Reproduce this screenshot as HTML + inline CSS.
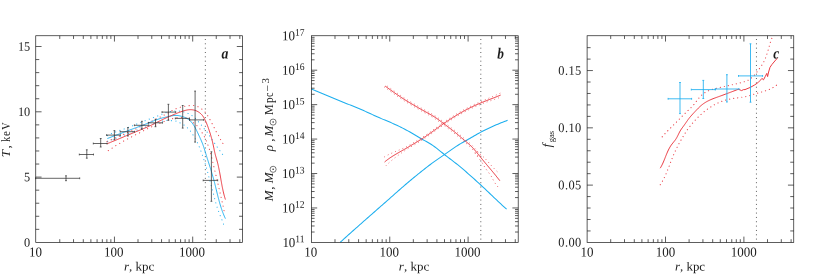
<!DOCTYPE html>
<html><head><meta charset="utf-8"><title>Figure</title>
<style>
html,body{margin:0;padding:0;background:#fff;}
body{width:830px;height:279px;overflow:hidden;font-family:"Liberation Serif",serif;}
svg{display:block;will-change:transform;font-family:"Liberation Serif",serif;}
</style></head><body>
<svg width="830" height="279" viewBox="0 0 830 279">
<rect width="830" height="279" fill="#ffffff"/>
<line x1="205.35" y1="39.0" x2="205.35" y2="241.4" stroke="#444" stroke-width="0.9" stroke-dasharray="0.95 3.39"/>
<path d="M107.4 135.6 L108.02 135.25 L108.65 134.91 L109.29 134.58 L109.93 134.27 L110.58 133.97 L111.23 133.67 L111.88 133.39 L112.54 133.12 L113.21 132.85 L113.87 132.59 L114.54 132.33 L115.21 132.08 L115.88 131.83 L116.55 131.59 L117.22 131.35 L117.9 131.12 L118.57 130.88 L119.25 130.65 L119.92 130.41 L120.6 130.18 L121.27 129.95 L121.95 129.72 L122.62 129.48 L123.3 129.25 L123.97 129.01 L124.64 128.77 L125.32 128.53 L125.99 128.28 L126.66 128.04 L127.33 127.79 L128 127.54 L128.66 127.28 L129.33 127.03 L130 126.77 L130.67 126.52 L131.33 126.26 L132 126 L132.66 125.73 L133.33 125.47 L133.99 125.21 L134.65 124.94 L135.32 124.67 L135.98 124.41 L136.64 124.14 L137.3 123.87 L137.96 123.6 L138.63 123.33 L139.29 123.06 L139.95 122.79 L140.61 122.52 L141.27 122.26 L141.94 121.99 L142.6 121.72 L143.26 121.46 L143.93 121.19 L144.59 120.93 L145.25 120.66 L145.92 120.4 L146.58 120.14 L147.25 119.89 L147.92 119.63 L148.58 119.38 L149.25 119.13 L149.92 118.88 L150.59 118.63 L151.26 118.38 L151.93 118.13 L152.6 117.88 L153.27 117.63 L153.94 117.38 L154.61 117.13 L155.27 116.88 L155.94 116.63 L156.61 116.37 L157.27 116.11 L157.94 115.85 L158.6 115.58 L159.26 115.31 L159.92 115.03 L160.58 114.75 L161.24 114.47 L161.9 114.19 L162.56 113.91 L163.22 113.63 L163.88 113.37 L164.55 113.11 L165.22 112.86 L165.89 112.64 L166.57 112.42 L167.26 112.23 L167.95 112.05 L168.64 111.89 L169.34 111.74 L170.05 111.61 L170.75 111.49 L171.46 111.39 L172.18 111.29 L172.89 111.21 L173.61 111.13 L174.32 111.08 L175.04 111.03 L175.76 111 L176.48 110.99 L177.19 110.99 L177.91 111.01 L178.62 111.05 L179.33 111.11 L180.04 111.19 L180.75 111.29 L181.45 111.42 L182.15 111.56 L182.84 111.73 L183.54 111.91 L184.23 112.1 L184.91 112.31 L185.6 112.53 L186.28 112.75 L186.95 112.99 L187.62 113.25 L188.28 113.52 L188.93 113.82 L189.56 114.14 L190.19 114.48 L190.8 114.85 L191.4 115.24 L192 115.64 L192.58 116.06 L193.15 116.49 L193.71 116.93 L194.26 117.38 L194.8 117.85 L195.33 118.34 L195.84 118.84 L196.33 119.35 L196.82 119.87 L197.3 120.41 L197.77 120.94 L198.24 121.48 L198.71 122.02 L199.18 122.56 L199.65 123.1 L200.12 123.64 L200.59 124.18 L201.05 124.72 L201.5 125.27 L201.94 125.83 L202.38 126.4 L202.82 126.96 L203.25 127.53 L203.7 128.09 L204.15 128.64 L204.62 129.18 L205.09 129.72 L205.57 130.25 L206.04 130.79 L206.5 131.33 L206.95 131.89 L207.37 132.46 L207.78 133.05 L208.17 133.65 L208.55 134.25 L208.93 134.86 L209.31 135.46 L209.7 136.07 L210.08 136.67 L210.47 137.27 L210.87 137.86 L211.27 138.46 L211.67 139.05 L212.07 139.64 L212.48 140.23 L212.88 140.81 L213.29 141.4 L213.7 141.98 L214.11 142.57 L214.52 143.15 L214.93 143.74 L215.34 144.32 L215.75 144.91 L216.16 145.49 L216.57 146.08 L216.98 146.66 L217.4 147.24 L217.81 147.83 L218.22 148.41 L218.64 148.99 L219.05 149.57 L219.47 150.15 L219.88 150.73 L220.3 151.31 L220.72 151.89 L221.14 152.47 L221.56 153.05 L221.98 153.63 L222.4 154.2 L222.82 154.78 L223.25 155.35 L223.67 155.93 L224.1 156.5" fill="none" stroke="#1caeee" stroke-width="1.15" stroke-linecap="round" stroke-dasharray="0.1 4.4" stroke-opacity="0.88"/>
<path d="M107.6 141.4 L108.49 141.06 L109.38 140.72 L110.27 140.38 L111.16 140.05 L112.05 139.71 L112.94 139.37 L113.83 139.04 L114.72 138.7 L115.61 138.37 L116.5 138.03 L117.4 137.7 L118.29 137.37 L119.18 137.03 L120.07 136.7 L120.96 136.36 L121.85 136.02 L122.74 135.69 L123.63 135.35 L124.52 135.01 L125.41 134.67 L126.3 134.34 L127.19 134 L128.08 133.66 L128.97 133.32 L129.86 132.98 L130.75 132.63 L131.63 132.29 L132.52 131.95 L133.41 131.61 L134.3 131.27 L135.19 130.93 L136.08 130.59 L136.97 130.24 L137.86 129.9 L138.74 129.56 L139.63 129.22 L140.52 128.88 L141.41 128.54 L142.3 128.2 L143.19 127.85 L144.08 127.51 L144.96 127.17 L145.85 126.83 L146.74 126.49 L147.63 126.14 L148.52 125.8 L149.4 125.46 L150.29 125.12 L151.18 124.78 L152.07 124.44 L152.96 124.11 L153.86 123.79 L154.76 123.47 L155.66 123.16 L156.56 122.85 L157.46 122.56 L158.37 122.28 L159.29 122 L160.21 121.74 L161.13 121.5 L162.06 121.27 L162.99 121.06 L163.93 120.88 L164.87 120.73 L165.81 120.62 L166.75 120.54 L167.7 120.5 L168.65 120.49 L169.6 120.51 L170.55 120.55 L171.51 120.6 L172.47 120.66 L173.43 120.73 L174.39 120.81 L175.34 120.93 L176.26 121.12 L177.17 121.39 L178.03 121.76 L178.88 122.19 L179.71 122.67 L180.54 123.15 L181.38 123.62 L182.22 124.07 L183.06 124.53 L183.88 125.01 L184.68 125.52 L185.44 126.08 L186.18 126.69 L186.89 127.32 L187.58 127.98 L188.26 128.66 L188.92 129.35 L189.56 130.05 L190.18 130.77 L190.77 131.52 L191.33 132.29 L191.86 133.07 L192.38 133.87 L192.88 134.68 L193.38 135.5 L193.88 136.32 L194.36 137.13 L194.85 137.96 L195.32 138.78 L195.79 139.61 L196.24 140.45 L196.69 141.29 L197.12 142.13 L197.54 142.99 L197.94 143.85 L198.34 144.72 L198.72 145.59 L199.09 146.46 L199.45 147.34 L199.81 148.23 L200.16 149.12 L200.5 150 L200.84 150.9 L201.18 151.79 L201.51 152.68 L201.83 153.57 L202.15 154.47 L202.47 155.37 L202.78 156.27 L203.09 157.17 L203.39 158.07 L203.69 158.97 L203.98 159.88 L204.27 160.79 L204.56 161.69 L204.84 162.6 L205.12 163.51 L205.39 164.43 L205.66 165.34 L205.93 166.25 L206.2 167.17 L206.46 168.08 L206.72 169 L206.98 169.91 L207.23 170.83 L207.49 171.75 L207.74 172.67 L207.99 173.59 L208.24 174.5 L208.49 175.42 L208.74 176.34 L208.98 177.26 L209.23 178.18 L209.48 179.1 L209.72 180.02 L209.97 180.94 L210.21 181.86 L210.46 182.78 L210.71 183.7 L210.95 184.62 L211.2 185.54 L211.45 186.45 L211.7 187.37 L211.95 188.29 L212.19 189.21 L212.44 190.13 L212.69 191.05 L212.93 191.97 L213.18 192.89 L213.42 193.81 L213.67 194.73 L213.91 195.65 L214.15 196.57 L214.39 197.5 L214.63 198.42 L214.87 199.34 L215.11 200.26 L215.35 201.18 L215.6 202.1 L215.86 203.02 L216.11 203.94 L216.38 204.85 L216.65 205.76 L216.93 206.67 L217.22 207.58 L217.52 208.48 L217.84 209.38 L218.16 210.27 L218.49 211.16 L218.83 212.05 L219.17 212.94 L219.52 213.83 L219.88 214.71 L220.23 215.59 L220.59 216.48 L220.94 217.36 L221.3 218.25 L221.65 219.13 L221.99 220.02 L222.33 220.91 L222.66 221.8 L222.99 222.7 L223.3 223.6 L223.6 224.5" fill="none" stroke="#1caeee" stroke-width="1.15" stroke-linecap="round" stroke-dasharray="0.1 4.4" stroke-opacity="0.88"/>
<path d="M107 141.5 L107.67 141.21 L108.33 140.92 L109 140.63 L109.66 140.34 L110.33 140.05 L110.99 139.75 L111.66 139.46 L112.33 139.17 L112.99 138.88 L113.65 138.58 L114.32 138.29 L114.98 138 L115.65 137.7 L116.31 137.41 L116.98 137.12 L117.65 136.83 L118.31 136.53 L118.98 136.24 L119.64 135.95 L120.31 135.66 L120.97 135.37 L121.64 135.08 L122.31 134.8 L122.98 134.51 L123.64 134.22 L124.31 133.94 L124.98 133.65 L125.65 133.37 L126.32 133.09 L126.99 132.8 L127.66 132.52 L128.33 132.24 L129 131.96 L129.67 131.67 L130.33 131.39 L131 131.1 L131.67 130.81 L132.34 130.52 L133 130.23 L133.66 129.93 L134.33 129.63 L134.99 129.33 L135.65 129.03 L136.3 128.72 L136.96 128.41 L137.62 128.1 L138.27 127.79 L138.93 127.47 L139.58 127.15 L140.23 126.83 L140.89 126.51 L141.54 126.19 L142.19 125.87 L142.84 125.55 L143.49 125.22 L144.14 124.9 L144.79 124.57 L145.44 124.25 L146.09 123.93 L146.74 123.6 L147.39 123.28 L148.05 122.96 L148.7 122.64 L149.35 122.32 L150 122 L150.66 121.68 L151.31 121.37 L151.97 121.05 L152.63 120.74 L153.28 120.43 L153.94 120.11 L154.6 119.8 L155.25 119.49 L155.91 119.17 L156.56 118.86 L157.22 118.55 L157.87 118.23 L158.53 117.91 L159.18 117.59 L159.83 117.27 L160.48 116.95 L161.13 116.62 L161.78 116.29 L162.42 115.96 L163.07 115.63 L163.71 115.29 L164.35 114.95 L164.99 114.6 L165.62 114.25 L166.26 113.9 L166.89 113.55 L167.53 113.19 L168.16 112.83 L168.79 112.47 L169.42 112.1 L170.05 111.74 L170.68 111.37 L171.31 111.01 L171.94 110.64 L172.57 110.28 L173.21 109.94 L173.86 109.61 L174.51 109.3 L175.18 109.02 L175.86 108.75 L176.54 108.5 L177.22 108.26 L177.91 108.03 L178.61 107.8 L179.3 107.57 L179.99 107.34 L180.68 107.11 L181.38 106.91 L182.08 106.71 L182.78 106.55 L183.49 106.4 L184.21 106.29 L184.93 106.19 L185.65 106.1 L186.37 106.01 L187.1 105.93 L187.82 105.83 L188.54 105.72 L189.26 105.62 L189.98 105.53 L190.7 105.46 L191.43 105.41 L192.15 105.4 L192.88 105.42 L193.61 105.48 L194.33 105.58 L195.05 105.72 L195.76 105.89 L196.46 106.1 L197.14 106.34 L197.82 106.62 L198.48 106.93 L199.12 107.27 L199.75 107.63 L200.37 108.02 L200.97 108.43 L201.56 108.86 L202.13 109.31 L202.69 109.77 L203.24 110.25 L203.77 110.75 L204.3 111.25 L204.81 111.77 L205.3 112.31 L205.77 112.86 L206.22 113.43 L206.65 114.02 L207.05 114.62 L207.44 115.23 L207.82 115.86 L208.19 116.48 L208.55 117.12 L208.91 117.75 L209.28 118.38 L209.64 119.01 L210 119.64 L210.35 120.27 L210.7 120.91 L211.05 121.55 L211.39 122.19 L211.73 122.83 L212.07 123.47 L212.41 124.12 L212.74 124.76 L213.08 125.41 L213.41 126.05 L213.74 126.7 L214.07 127.35 L214.4 127.99 L214.72 128.65 L215.04 129.3 L215.36 129.95 L215.69 130.6 L216.02 131.25 L216.37 131.89 L216.73 132.52 L217.1 133.14 L217.48 133.76 L217.86 134.38 L218.23 135 L218.6 135.63 L218.94 136.27 L219.27 136.92 L219.59 137.57 L219.9 138.23 L220.21 138.89 L220.52 139.54 L220.85 140.19 L221.19 140.83 L221.54 141.46 L221.93 142.08 L222.35 142.67 L222.8 143.25 L223.3 143.8" fill="none" stroke="#e92f38" stroke-width="1.15" stroke-linecap="round" stroke-dasharray="0.1 4.4" stroke-opacity="0.88"/>
<path d="M108.3 150.6 L109.15 150.14 L109.97 149.65 L110.77 149.12 L111.56 148.57 L112.33 148.01 L113.11 147.45 L113.89 146.89 L114.68 146.34 L115.48 145.81 L116.3 145.32 L117.13 144.85 L117.97 144.38 L118.81 143.93 L119.65 143.46 L120.48 142.98 L121.3 142.49 L122.12 141.99 L122.95 141.49 L123.77 141 L124.6 140.52 L125.43 140.04 L126.27 139.58 L127.12 139.14 L127.97 138.7 L128.83 138.28 L129.69 137.86 L130.55 137.42 L131.4 136.98 L132.25 136.53 L133.1 136.08 L133.94 135.64 L134.8 135.2 L135.66 134.77 L136.52 134.36 L137.38 133.94 L138.25 133.53 L139.11 133.1 L139.97 132.68 L140.82 132.24 L141.67 131.79 L142.51 131.33 L143.34 130.86 L144.18 130.39 L145.02 129.92 L145.86 129.47 L146.72 129.04 L147.59 128.64 L148.47 128.25 L149.35 127.87 L150.23 127.48 L151.1 127.1 L151.98 126.71 L152.86 126.32 L153.74 125.94 L154.61 125.55 L155.49 125.16 L156.37 124.78 L157.24 124.39 L158.12 124.01 L159 123.63 L159.88 123.25 L160.77 122.88 L161.65 122.51 L162.54 122.14 L163.43 121.78 L164.32 121.43 L165.21 121.08 L166.11 120.74 L167.01 120.41 L167.92 120.09 L168.82 119.79 L169.74 119.49 L170.65 119.2 L171.57 118.93 L172.49 118.67 L173.42 118.42 L174.35 118.19 L175.29 117.98 L176.23 117.79 L177.17 117.62 L178.12 117.48 L179.08 117.38 L180.04 117.32 L181.01 117.3 L181.98 117.33 L182.95 117.4 L183.91 117.53 L184.87 117.71 L185.8 117.95 L186.72 118.25 L187.6 118.61 L188.45 119.04 L189.27 119.52 L190.06 120.06 L190.83 120.63 L191.58 121.23 L192.33 121.85 L193.07 122.48 L193.81 123.1 L194.56 123.71 L195.32 124.3 L196.07 124.89 L196.81 125.5 L197.53 126.13 L198.21 126.81 L198.84 127.52 L199.45 128.27 L200.01 129.06 L200.53 129.86 L201.02 130.69 L201.48 131.53 L201.94 132.37 L202.4 133.21 L202.87 134.05 L203.35 134.88 L203.83 135.71 L204.3 136.54 L204.75 137.39 L205.16 138.25 L205.55 139.13 L205.92 140.01 L206.28 140.9 L206.64 141.8 L206.99 142.69 L207.35 143.58 L207.69 144.48 L208.04 145.37 L208.37 146.27 L208.7 147.17 L209.02 148.07 L209.33 148.98 L209.63 149.89 L209.91 150.8 L210.19 151.72 L210.45 152.64 L210.71 153.57 L210.95 154.49 L211.19 155.42 L211.43 156.35 L211.66 157.28 L211.88 158.21 L212.1 159.15 L212.32 160.08 L212.54 161.02 L212.76 161.95 L212.97 162.89 L213.19 163.82 L213.41 164.76 L213.63 165.69 L213.86 166.62 L214.08 167.56 L214.3 168.49 L214.53 169.42 L214.75 170.35 L214.98 171.29 L215.2 172.22 L215.43 173.15 L215.66 174.08 L215.88 175.01 L216.11 175.94 L216.33 176.88 L216.56 177.81 L216.78 178.74 L217 179.67 L217.22 180.6 L217.44 181.54 L217.66 182.47 L217.88 183.4 L218.1 184.34 L218.31 185.27 L218.53 186.21 L218.74 187.14 L218.96 188.07 L219.17 189.01 L219.38 189.94 L219.6 190.88 L219.81 191.81 L220.02 192.75 L220.24 193.68 L220.45 194.62 L220.66 195.55 L220.88 196.49 L221.1 197.42 L221.32 198.35 L221.53 199.29 L221.75 200.22 L221.97 201.16 L222.19 202.09 L222.4 203.02 L222.62 203.96 L222.83 204.89 L223.04 205.83 L223.25 206.76 L223.45 207.7 L223.65 208.64 L223.85 209.58 L224.04 210.52 L224.22 211.46 L224.4 212.4" fill="none" stroke="#e92f38" stroke-width="1.15" stroke-linecap="round" stroke-dasharray="0.1 4.4" stroke-opacity="0.88"/>
<path d="M107.4 138.5 L108.3 138.16 L109.21 137.81 L110.11 137.47 L111.01 137.12 L111.92 136.78 L112.82 136.43 L113.72 136.09 L114.63 135.74 L115.53 135.4 L116.43 135.05 L117.34 134.71 L118.24 134.37 L119.15 134.02 L120.05 133.68 L120.96 133.34 L121.86 133 L122.77 132.65 L123.67 132.31 L124.57 131.97 L125.48 131.63 L126.39 131.29 L127.29 130.95 L128.2 130.61 L129.1 130.27 L130.01 129.93 L130.91 129.59 L131.82 129.25 L132.73 128.92 L133.63 128.58 L134.54 128.24 L135.44 127.91 L136.35 127.58 L137.26 127.24 L138.16 126.91 L139.07 126.57 L139.98 126.24 L140.88 125.9 L141.79 125.56 L142.69 125.22 L143.6 124.88 L144.5 124.53 L145.4 124.18 L146.31 123.83 L147.21 123.48 L148.11 123.12 L149 122.76 L149.9 122.39 L150.8 122.02 L151.7 121.65 L152.59 121.29 L153.49 120.93 L154.39 120.57 L155.3 120.22 L156.2 119.88 L157.11 119.55 L158.02 119.23 L158.94 118.93 L159.86 118.64 L160.78 118.37 L161.71 118.12 L162.64 117.88 L163.58 117.65 L164.52 117.43 L165.46 117.22 L166.41 117.01 L167.36 116.8 L168.31 116.59 L169.26 116.37 L170.21 116.16 L171.17 115.96 L172.12 115.78 L173.08 115.62 L174.04 115.5 L174.99 115.42 L175.95 115.4 L176.91 115.44 L177.87 115.53 L178.83 115.67 L179.78 115.86 L180.73 116.09 L181.67 116.35 L182.61 116.64 L183.54 116.95 L184.46 117.29 L185.36 117.67 L186.24 118.08 L187.09 118.53 L187.92 119.03 L188.7 119.58 L189.45 120.17 L190.17 120.82 L190.85 121.5 L191.49 122.23 L192.11 122.98 L192.7 123.77 L193.26 124.57 L193.8 125.4 L194.31 126.24 L194.81 127.09 L195.28 127.94 L195.74 128.8 L196.19 129.66 L196.62 130.52 L197.04 131.39 L197.46 132.26 L197.86 133.13 L198.27 134.01 L198.67 134.88 L199.07 135.76 L199.48 136.64 L199.88 137.52 L200.28 138.4 L200.68 139.28 L201.07 140.16 L201.46 141.05 L201.83 141.94 L202.2 142.84 L202.55 143.74 L202.89 144.64 L203.22 145.55 L203.54 146.46 L203.85 147.38 L204.15 148.3 L204.44 149.22 L204.73 150.15 L205.01 151.07 L205.29 152 L205.57 152.92 L205.85 153.85 L206.13 154.78 L206.42 155.7 L206.7 156.63 L206.99 157.55 L207.28 158.47 L207.57 159.39 L207.87 160.31 L208.16 161.24 L208.46 162.16 L208.75 163.08 L209.05 164 L209.34 164.92 L209.63 165.84 L209.92 166.76 L210.22 167.68 L210.5 168.61 L210.79 169.53 L211.07 170.45 L211.36 171.38 L211.63 172.31 L211.91 173.23 L212.19 174.16 L212.46 175.09 L212.72 176.02 L212.99 176.95 L213.25 177.88 L213.51 178.81 L213.76 179.74 L214.01 180.68 L214.26 181.61 L214.51 182.55 L214.75 183.49 L214.98 184.43 L215.22 185.37 L215.45 186.31 L215.68 187.25 L215.91 188.19 L216.14 189.13 L216.37 190.07 L216.6 191.01 L216.83 191.96 L217.06 192.9 L217.29 193.84 L217.52 194.78 L217.76 195.72 L217.99 196.65 L218.23 197.59 L218.48 198.53 L218.72 199.46 L218.97 200.4 L219.23 201.33 L219.49 202.26 L219.75 203.19 L220.02 204.12 L220.29 205.04 L220.58 205.97 L220.86 206.89 L221.16 207.81 L221.46 208.72 L221.77 209.64 L222.09 210.55 L222.42 211.46 L222.76 212.36 L223.1 213.26 L223.46 214.16 L223.83 215.06 L224.2 215.95 L224.59 216.84 L224.99 217.72 L225.4 218.6" fill="none" stroke="#1caeee" stroke-width="0.95" stroke-linejoin="round"/>
<path d="M106.9 143.8 L107.79 143.44 L108.69 143.08 L109.58 142.72 L110.47 142.35 L111.36 141.99 L112.25 141.62 L113.14 141.25 L114.03 140.89 L114.92 140.52 L115.81 140.15 L116.69 139.78 L117.58 139.41 L118.47 139.04 L119.36 138.67 L120.25 138.3 L121.13 137.93 L122.02 137.55 L122.91 137.18 L123.8 136.81 L124.68 136.44 L125.57 136.06 L126.46 135.69 L127.35 135.32 L128.23 134.95 L129.12 134.58 L130.01 134.21 L130.9 133.84 L131.79 133.47 L132.68 133.1 L133.56 132.73 L134.45 132.36 L135.34 131.99 L136.23 131.63 L137.13 131.26 L138.02 130.9 L138.91 130.53 L139.8 130.17 L140.69 129.8 L141.58 129.43 L142.47 129.06 L143.36 128.69 L144.25 128.32 L145.13 127.94 L146.02 127.56 L146.9 127.18 L147.78 126.79 L148.66 126.4 L149.53 126 L150.41 125.6 L151.28 125.19 L152.15 124.77 L153.01 124.35 L153.87 123.92 L154.73 123.49 L155.59 123.05 L156.44 122.61 L157.3 122.17 L158.16 121.73 L159.01 121.3 L159.87 120.86 L160.74 120.43 L161.6 120.01 L162.47 119.59 L163.34 119.18 L164.21 118.77 L165.09 118.36 L165.96 117.96 L166.84 117.56 L167.72 117.17 L168.6 116.78 L169.48 116.39 L170.36 116.01 L171.24 115.63 L172.12 115.25 L173 114.87 L173.89 114.5 L174.77 114.13 L175.66 113.77 L176.55 113.41 L177.44 113.06 L178.34 112.71 L179.25 112.37 L180.16 112.04 L181.07 111.72 L181.99 111.4 L182.92 111.1 L183.85 110.81 L184.79 110.54 L185.74 110.3 L186.68 110.09 L187.63 109.91 L188.59 109.78 L189.55 109.7 L190.5 109.67 L191.46 109.7 L192.42 109.8 L193.37 109.95 L194.32 110.17 L195.25 110.45 L196.16 110.78 L197.05 111.18 L197.91 111.63 L198.74 112.13 L199.54 112.69 L200.3 113.3 L201.02 113.95 L201.69 114.64 L202.32 115.37 L202.9 116.14 L203.44 116.94 L203.94 117.77 L204.4 118.61 L204.84 119.47 L205.26 120.34 L205.67 121.22 L206.06 122.1 L206.44 122.98 L206.8 123.87 L207.16 124.77 L207.5 125.67 L207.84 126.57 L208.17 127.47 L208.49 128.38 L208.8 129.29 L209.11 130.2 L209.42 131.11 L209.72 132.03 L210.01 132.95 L210.3 133.87 L210.58 134.79 L210.85 135.71 L211.12 136.64 L211.38 137.56 L211.64 138.49 L211.88 139.42 L212.12 140.35 L212.36 141.29 L212.58 142.23 L212.8 143.16 L213.01 144.1 L213.22 145.04 L213.41 145.99 L213.61 146.93 L213.8 147.87 L214 148.82 L214.19 149.76 L214.39 150.7 L214.6 151.64 L214.81 152.58 L215.03 153.52 L215.26 154.45 L215.5 155.38 L215.76 156.31 L216.02 157.23 L216.29 158.16 L216.55 159.08 L216.82 160.01 L217.08 160.93 L217.33 161.86 L217.58 162.79 L217.81 163.73 L218.04 164.66 L218.25 165.6 L218.46 166.54 L218.67 167.48 L218.87 168.42 L219.06 169.36 L219.25 170.3 L219.43 171.25 L219.61 172.19 L219.79 173.14 L219.96 174.09 L220.13 175.04 L220.3 175.99 L220.46 176.93 L220.63 177.88 L220.8 178.83 L220.96 179.78 L221.13 180.73 L221.3 181.68 L221.47 182.63 L221.64 183.58 L221.81 184.53 L221.99 185.47 L222.17 186.42 L222.36 187.36 L222.55 188.31 L222.74 189.25 L222.94 190.19 L223.15 191.13 L223.37 192.07 L223.59 193 L223.82 193.94 L224.06 194.87 L224.31 195.8 L224.57 196.73 L224.83 197.66 L225.11 198.58 L225.4 199.5" fill="none" stroke="#e92f38" stroke-width="0.95" stroke-linejoin="round"/>
<line x1="35.6" y1="178.3" x2="79.7" y2="178.3" stroke="#2b2b2b" stroke-width="0.72" />
<line x1="66" y1="175.8" x2="66" y2="180.7" stroke="#2b2b2b" stroke-width="0.72" />
<line x1="65.1" y1="175.8" x2="66.9" y2="175.8" stroke="#2b2b2b" stroke-width="0.72" />
<line x1="65.1" y1="180.7" x2="66.9" y2="180.7" stroke="#2b2b2b" stroke-width="0.72" />
<line x1="35.6" y1="177.4" x2="35.6" y2="179.2" stroke="#2b2b2b" stroke-width="0.72" />
<line x1="79.7" y1="177.4" x2="79.7" y2="179.2" stroke="#2b2b2b" stroke-width="0.72" />
<line x1="79.3" y1="154.5" x2="93.5" y2="154.5" stroke="#2b2b2b" stroke-width="0.72" />
<line x1="86.8" y1="149.8" x2="86.8" y2="158.2" stroke="#2b2b2b" stroke-width="0.72" />
<line x1="85.9" y1="149.8" x2="87.7" y2="149.8" stroke="#2b2b2b" stroke-width="0.72" />
<line x1="85.9" y1="158.2" x2="87.7" y2="158.2" stroke="#2b2b2b" stroke-width="0.72" />
<line x1="79.3" y1="153.6" x2="79.3" y2="155.4" stroke="#2b2b2b" stroke-width="0.72" />
<line x1="93.5" y1="153.6" x2="93.5" y2="155.4" stroke="#2b2b2b" stroke-width="0.72" />
<line x1="93.3" y1="143.5" x2="107.1" y2="143.5" stroke="#2b2b2b" stroke-width="0.72" />
<line x1="100.7" y1="138.5" x2="100.7" y2="147" stroke="#2b2b2b" stroke-width="0.72" />
<line x1="99.8" y1="138.5" x2="101.6" y2="138.5" stroke="#2b2b2b" stroke-width="0.72" />
<line x1="99.8" y1="147" x2="101.6" y2="147" stroke="#2b2b2b" stroke-width="0.72" />
<line x1="93.3" y1="142.6" x2="93.3" y2="144.4" stroke="#2b2b2b" stroke-width="0.72" />
<line x1="107.1" y1="142.6" x2="107.1" y2="144.4" stroke="#2b2b2b" stroke-width="0.72" />
<line x1="106.6" y1="135.1" x2="120.4" y2="135.1" stroke="#2b2b2b" stroke-width="0.72" />
<line x1="114.4" y1="130.6" x2="114.4" y2="139.6" stroke="#2b2b2b" stroke-width="0.72" />
<line x1="113.5" y1="130.6" x2="115.3" y2="130.6" stroke="#2b2b2b" stroke-width="0.72" />
<line x1="113.5" y1="139.6" x2="115.3" y2="139.6" stroke="#2b2b2b" stroke-width="0.72" />
<line x1="106.6" y1="134.2" x2="106.6" y2="136" stroke="#2b2b2b" stroke-width="0.72" />
<line x1="120.4" y1="134.2" x2="120.4" y2="136" stroke="#2b2b2b" stroke-width="0.72" />
<line x1="120.2" y1="131.7" x2="134.5" y2="131.7" stroke="#2b2b2b" stroke-width="0.72" />
<line x1="127.9" y1="127.6" x2="127.9" y2="136" stroke="#2b2b2b" stroke-width="0.72" />
<line x1="127" y1="127.6" x2="128.8" y2="127.6" stroke="#2b2b2b" stroke-width="0.72" />
<line x1="127" y1="136" x2="128.8" y2="136" stroke="#2b2b2b" stroke-width="0.72" />
<line x1="120.2" y1="130.8" x2="120.2" y2="132.6" stroke="#2b2b2b" stroke-width="0.72" />
<line x1="134.5" y1="130.8" x2="134.5" y2="132.6" stroke="#2b2b2b" stroke-width="0.72" />
<line x1="134.4" y1="125.3" x2="148.4" y2="125.3" stroke="#2b2b2b" stroke-width="0.72" />
<line x1="141.9" y1="121.3" x2="141.9" y2="129.1" stroke="#2b2b2b" stroke-width="0.72" />
<line x1="141" y1="121.3" x2="142.8" y2="121.3" stroke="#2b2b2b" stroke-width="0.72" />
<line x1="141" y1="129.1" x2="142.8" y2="129.1" stroke="#2b2b2b" stroke-width="0.72" />
<line x1="134.4" y1="124.4" x2="134.4" y2="126.2" stroke="#2b2b2b" stroke-width="0.72" />
<line x1="148.4" y1="124.4" x2="148.4" y2="126.2" stroke="#2b2b2b" stroke-width="0.72" />
<line x1="148.5" y1="122.8" x2="162.4" y2="122.8" stroke="#2b2b2b" stroke-width="0.72" />
<line x1="155.5" y1="119.3" x2="155.5" y2="126.7" stroke="#2b2b2b" stroke-width="0.72" />
<line x1="154.6" y1="119.3" x2="156.4" y2="119.3" stroke="#2b2b2b" stroke-width="0.72" />
<line x1="154.6" y1="126.7" x2="156.4" y2="126.7" stroke="#2b2b2b" stroke-width="0.72" />
<line x1="148.5" y1="121.9" x2="148.5" y2="123.7" stroke="#2b2b2b" stroke-width="0.72" />
<line x1="162.4" y1="121.9" x2="162.4" y2="123.7" stroke="#2b2b2b" stroke-width="0.72" />
<line x1="162" y1="112.1" x2="175.7" y2="112.1" stroke="#2b2b2b" stroke-width="0.72" />
<line x1="168.4" y1="104.3" x2="168.4" y2="120.2" stroke="#2b2b2b" stroke-width="0.72" />
<line x1="167.5" y1="104.3" x2="169.3" y2="104.3" stroke="#2b2b2b" stroke-width="0.72" />
<line x1="167.5" y1="120.2" x2="169.3" y2="120.2" stroke="#2b2b2b" stroke-width="0.72" />
<line x1="162" y1="111.2" x2="162" y2="113" stroke="#2b2b2b" stroke-width="0.72" />
<line x1="175.7" y1="111.2" x2="175.7" y2="113" stroke="#2b2b2b" stroke-width="0.72" />
<line x1="175.3" y1="118.4" x2="189.5" y2="118.4" stroke="#2b2b2b" stroke-width="0.72" />
<line x1="182.7" y1="105.5" x2="182.7" y2="128.1" stroke="#2b2b2b" stroke-width="0.72" />
<line x1="181.8" y1="105.5" x2="183.6" y2="105.5" stroke="#2b2b2b" stroke-width="0.72" />
<line x1="181.8" y1="128.1" x2="183.6" y2="128.1" stroke="#2b2b2b" stroke-width="0.72" />
<line x1="175.3" y1="117.5" x2="175.3" y2="119.3" stroke="#2b2b2b" stroke-width="0.72" />
<line x1="189.5" y1="117.5" x2="189.5" y2="119.3" stroke="#2b2b2b" stroke-width="0.72" />
<line x1="189.5" y1="119.9" x2="203.7" y2="119.9" stroke="#2b2b2b" stroke-width="0.72" />
<line x1="195.1" y1="91.1" x2="195.1" y2="142.1" stroke="#2b2b2b" stroke-width="0.72" />
<line x1="194.2" y1="91.1" x2="196" y2="91.1" stroke="#2b2b2b" stroke-width="0.72" />
<line x1="194.2" y1="142.1" x2="196" y2="142.1" stroke="#2b2b2b" stroke-width="0.72" />
<line x1="189.5" y1="119" x2="189.5" y2="120.8" stroke="#2b2b2b" stroke-width="0.72" />
<line x1="203.7" y1="119" x2="203.7" y2="120.8" stroke="#2b2b2b" stroke-width="0.72" />
<line x1="203.2" y1="180.4" x2="217.7" y2="180.4" stroke="#2b2b2b" stroke-width="0.72" />
<line x1="211.4" y1="151.8" x2="211.4" y2="201.3" stroke="#2b2b2b" stroke-width="0.72" />
<line x1="210.5" y1="151.8" x2="212.3" y2="151.8" stroke="#2b2b2b" stroke-width="0.72" />
<line x1="210.5" y1="201.3" x2="212.3" y2="201.3" stroke="#2b2b2b" stroke-width="0.72" />
<line x1="203.2" y1="179.5" x2="203.2" y2="181.3" stroke="#2b2b2b" stroke-width="0.72" />
<line x1="217.7" y1="179.5" x2="217.7" y2="181.3" stroke="#2b2b2b" stroke-width="0.72" />
<rect x="35.75" y="35.75" width="206.85" height="206.65" fill="none" stroke="#1a1a1a" stroke-width="0.7"/>
<text transform="translate(35.6 256.5) scale(1 1.05) rotate(0.05)" text-anchor="middle" font-size="13.0" fill="#1c1c1c" >10</text>
<line x1="59.76" y1="242.4" x2="59.76" y2="239.2" stroke="#1a1a1a" stroke-width="0.7" />
<line x1="59.76" y1="35.75" x2="59.76" y2="38.95" stroke="#1a1a1a" stroke-width="0.7" />
<line x1="73.53" y1="242.4" x2="73.53" y2="239.2" stroke="#1a1a1a" stroke-width="0.7" />
<line x1="73.53" y1="35.75" x2="73.53" y2="38.95" stroke="#1a1a1a" stroke-width="0.7" />
<line x1="83.31" y1="242.4" x2="83.31" y2="239.2" stroke="#1a1a1a" stroke-width="0.7" />
<line x1="83.31" y1="35.75" x2="83.31" y2="38.95" stroke="#1a1a1a" stroke-width="0.7" />
<line x1="90.89" y1="242.4" x2="90.89" y2="239.2" stroke="#1a1a1a" stroke-width="0.7" />
<line x1="90.89" y1="35.75" x2="90.89" y2="38.95" stroke="#1a1a1a" stroke-width="0.7" />
<line x1="97.09" y1="242.4" x2="97.09" y2="239.2" stroke="#1a1a1a" stroke-width="0.7" />
<line x1="97.09" y1="35.75" x2="97.09" y2="38.95" stroke="#1a1a1a" stroke-width="0.7" />
<line x1="102.33" y1="242.4" x2="102.33" y2="239.2" stroke="#1a1a1a" stroke-width="0.7" />
<line x1="102.33" y1="35.75" x2="102.33" y2="38.95" stroke="#1a1a1a" stroke-width="0.7" />
<line x1="106.87" y1="242.4" x2="106.87" y2="239.2" stroke="#1a1a1a" stroke-width="0.7" />
<line x1="106.87" y1="35.75" x2="106.87" y2="38.95" stroke="#1a1a1a" stroke-width="0.7" />
<line x1="110.87" y1="242.4" x2="110.87" y2="239.2" stroke="#1a1a1a" stroke-width="0.7" />
<line x1="110.87" y1="35.75" x2="110.87" y2="38.95" stroke="#1a1a1a" stroke-width="0.7" />
<line x1="114.45" y1="242.4" x2="114.45" y2="236.6" stroke="#1a1a1a" stroke-width="0.7" />
<line x1="114.45" y1="35.75" x2="114.45" y2="41.55" stroke="#1a1a1a" stroke-width="0.7" />
<text transform="translate(113.85 256.5) scale(1 1.05) rotate(0.05)" text-anchor="middle" font-size="13.0" fill="#1c1c1c" >100</text>
<line x1="138.01" y1="242.4" x2="138.01" y2="239.2" stroke="#1a1a1a" stroke-width="0.7" />
<line x1="138.01" y1="35.75" x2="138.01" y2="38.95" stroke="#1a1a1a" stroke-width="0.7" />
<line x1="151.78" y1="242.4" x2="151.78" y2="239.2" stroke="#1a1a1a" stroke-width="0.7" />
<line x1="151.78" y1="35.75" x2="151.78" y2="38.95" stroke="#1a1a1a" stroke-width="0.7" />
<line x1="161.56" y1="242.4" x2="161.56" y2="239.2" stroke="#1a1a1a" stroke-width="0.7" />
<line x1="161.56" y1="35.75" x2="161.56" y2="38.95" stroke="#1a1a1a" stroke-width="0.7" />
<line x1="169.14" y1="242.4" x2="169.14" y2="239.2" stroke="#1a1a1a" stroke-width="0.7" />
<line x1="169.14" y1="35.75" x2="169.14" y2="38.95" stroke="#1a1a1a" stroke-width="0.7" />
<line x1="175.34" y1="242.4" x2="175.34" y2="239.2" stroke="#1a1a1a" stroke-width="0.7" />
<line x1="175.34" y1="35.75" x2="175.34" y2="38.95" stroke="#1a1a1a" stroke-width="0.7" />
<line x1="180.58" y1="242.4" x2="180.58" y2="239.2" stroke="#1a1a1a" stroke-width="0.7" />
<line x1="180.58" y1="35.75" x2="180.58" y2="38.95" stroke="#1a1a1a" stroke-width="0.7" />
<line x1="185.12" y1="242.4" x2="185.12" y2="239.2" stroke="#1a1a1a" stroke-width="0.7" />
<line x1="185.12" y1="35.75" x2="185.12" y2="38.95" stroke="#1a1a1a" stroke-width="0.7" />
<line x1="189.12" y1="242.4" x2="189.12" y2="239.2" stroke="#1a1a1a" stroke-width="0.7" />
<line x1="189.12" y1="35.75" x2="189.12" y2="38.95" stroke="#1a1a1a" stroke-width="0.7" />
<line x1="192.7" y1="242.4" x2="192.7" y2="236.6" stroke="#1a1a1a" stroke-width="0.7" />
<line x1="192.7" y1="35.75" x2="192.7" y2="41.55" stroke="#1a1a1a" stroke-width="0.7" />
<text transform="translate(192.1 256.5) scale(1 1.05) rotate(0.05)" text-anchor="middle" font-size="13.0" fill="#1c1c1c" >1000</text>
<line x1="216.26" y1="242.4" x2="216.26" y2="239.2" stroke="#1a1a1a" stroke-width="0.7" />
<line x1="216.26" y1="35.75" x2="216.26" y2="38.95" stroke="#1a1a1a" stroke-width="0.7" />
<line x1="230.03" y1="242.4" x2="230.03" y2="239.2" stroke="#1a1a1a" stroke-width="0.7" />
<line x1="230.03" y1="35.75" x2="230.03" y2="38.95" stroke="#1a1a1a" stroke-width="0.7" />
<line x1="239.81" y1="242.4" x2="239.81" y2="239.2" stroke="#1a1a1a" stroke-width="0.7" />
<line x1="239.81" y1="35.75" x2="239.81" y2="38.95" stroke="#1a1a1a" stroke-width="0.7" />
<text transform="translate(30.2 246.65) scale(1 1.05) rotate(0.05)" text-anchor="end" font-size="12.3" fill="#1c1c1c" >0</text>
<line x1="35.75" y1="229.34" x2="39.25" y2="229.34" stroke="#1a1a1a" stroke-width="0.7" />
<line x1="242.6" y1="229.34" x2="239.1" y2="229.34" stroke="#1a1a1a" stroke-width="0.7" />
<line x1="35.75" y1="216.28" x2="39.25" y2="216.28" stroke="#1a1a1a" stroke-width="0.7" />
<line x1="242.6" y1="216.28" x2="239.1" y2="216.28" stroke="#1a1a1a" stroke-width="0.7" />
<line x1="35.75" y1="203.22" x2="39.25" y2="203.22" stroke="#1a1a1a" stroke-width="0.7" />
<line x1="242.6" y1="203.22" x2="239.1" y2="203.22" stroke="#1a1a1a" stroke-width="0.7" />
<line x1="35.75" y1="190.16" x2="39.25" y2="190.16" stroke="#1a1a1a" stroke-width="0.7" />
<line x1="242.6" y1="190.16" x2="239.1" y2="190.16" stroke="#1a1a1a" stroke-width="0.7" />
<line x1="35.75" y1="177.1" x2="41.55" y2="177.1" stroke="#1a1a1a" stroke-width="0.7" />
<line x1="242.6" y1="177.1" x2="236.8" y2="177.1" stroke="#1a1a1a" stroke-width="0.7" />
<text transform="translate(30.2 181.35) scale(1 1.05) rotate(0.05)" text-anchor="end" font-size="12.3" fill="#1c1c1c" >5</text>
<line x1="35.75" y1="164.04" x2="39.25" y2="164.04" stroke="#1a1a1a" stroke-width="0.7" />
<line x1="242.6" y1="164.04" x2="239.1" y2="164.04" stroke="#1a1a1a" stroke-width="0.7" />
<line x1="35.75" y1="150.98" x2="39.25" y2="150.98" stroke="#1a1a1a" stroke-width="0.7" />
<line x1="242.6" y1="150.98" x2="239.1" y2="150.98" stroke="#1a1a1a" stroke-width="0.7" />
<line x1="35.75" y1="137.92" x2="39.25" y2="137.92" stroke="#1a1a1a" stroke-width="0.7" />
<line x1="242.6" y1="137.92" x2="239.1" y2="137.92" stroke="#1a1a1a" stroke-width="0.7" />
<line x1="35.75" y1="124.86" x2="39.25" y2="124.86" stroke="#1a1a1a" stroke-width="0.7" />
<line x1="242.6" y1="124.86" x2="239.1" y2="124.86" stroke="#1a1a1a" stroke-width="0.7" />
<line x1="35.75" y1="111.8" x2="41.55" y2="111.8" stroke="#1a1a1a" stroke-width="0.7" />
<line x1="242.6" y1="111.8" x2="236.8" y2="111.8" stroke="#1a1a1a" stroke-width="0.7" />
<text transform="translate(30.2 116.05) scale(1 1.05) rotate(0.05)" text-anchor="end" font-size="12.3" fill="#1c1c1c" >10</text>
<line x1="35.75" y1="98.74" x2="39.25" y2="98.74" stroke="#1a1a1a" stroke-width="0.7" />
<line x1="242.6" y1="98.74" x2="239.1" y2="98.74" stroke="#1a1a1a" stroke-width="0.7" />
<line x1="35.75" y1="85.68" x2="39.25" y2="85.68" stroke="#1a1a1a" stroke-width="0.7" />
<line x1="242.6" y1="85.68" x2="239.1" y2="85.68" stroke="#1a1a1a" stroke-width="0.7" />
<line x1="35.75" y1="72.62" x2="39.25" y2="72.62" stroke="#1a1a1a" stroke-width="0.7" />
<line x1="242.6" y1="72.62" x2="239.1" y2="72.62" stroke="#1a1a1a" stroke-width="0.7" />
<line x1="35.75" y1="59.56" x2="39.25" y2="59.56" stroke="#1a1a1a" stroke-width="0.7" />
<line x1="242.6" y1="59.56" x2="239.1" y2="59.56" stroke="#1a1a1a" stroke-width="0.7" />
<line x1="35.75" y1="46.5" x2="41.55" y2="46.5" stroke="#1a1a1a" stroke-width="0.7" />
<line x1="242.6" y1="46.5" x2="236.8" y2="46.5" stroke="#1a1a1a" stroke-width="0.7" />
<text transform="translate(30.2 50.75) scale(1 1.05) rotate(0.05)" text-anchor="end" font-size="12.3" fill="#1c1c1c" >15</text>
<text transform="translate(139.18 270.6) scale(1 0.96) rotate(0.05)" text-anchor="middle" font-size="13" fill="#1c1c1c" ><tspan font-style="italic">r</tspan>, kpc</text>
<text transform="translate(10 157.3) rotate(-90) scale(1.0 0.97)" font-size="13" fill="#1c1c1c" font-style="italic">T</text>
<text transform="translate(10 148.6) rotate(-90) scale(1.0 0.97)" font-size="13" fill="#1c1c1c" >,</text>
<text transform="translate(10 142) rotate(-90) scale(0.82 0.97)" font-size="13" fill="#1c1c1c" >k</text>
<text transform="translate(10 135.9) rotate(-90) scale(0.86 0.97)" font-size="13" fill="#1c1c1c" >e</text>
<text transform="translate(10 129.7) rotate(-90) scale(0.78 0.95)" font-size="13" fill="#1c1c1c" >V</text>
<text transform="translate(224.9 58.6) scale(0.93 1.06) rotate(0.05)" text-anchor="middle" font-size="14.8" fill="#1c1c1c" font-style="italic" font-weight="bold">a</text>
<line x1="480.8" y1="39.0" x2="480.8" y2="241.4" stroke="#444" stroke-width="0.9" stroke-dasharray="0.95 3.39"/>
<path d="M311.4 89.1 L313.2 89.85 L315 90.59 L316.79 91.34 L318.59 92.08 L320.39 92.83 L322.19 93.57 L323.99 94.32 L325.78 95.06 L327.58 95.8 L329.38 96.55 L331.18 97.29 L332.98 98.03 L334.78 98.77 L336.59 99.5 L338.39 100.24 L340.19 100.97 L341.99 101.71 L343.8 102.44 L345.6 103.17 L347.41 103.9 L349.21 104.62 L351.02 105.35 L352.82 106.08 L354.63 106.8 L356.43 107.54 L358.23 108.28 L360.02 109.04 L361.81 109.81 L363.59 110.59 L365.37 111.39 L367.14 112.19 L368.91 113.01 L370.68 113.82 L372.45 114.64 L374.21 115.45 L375.98 116.26 L377.76 117.06 L379.54 117.84 L381.33 118.61 L383.12 119.36 L384.92 120.1 L386.73 120.84 L388.52 121.58 L390.32 122.34 L392.11 123.11 L393.89 123.9 L395.66 124.71 L397.42 125.53 L399.18 126.38 L400.93 127.24 L402.67 128.12 L404.4 129.01 L406.12 129.92 L407.83 130.85 L409.54 131.79 L411.23 132.75 L412.92 133.72 L414.6 134.71 L416.27 135.71 L417.93 136.71 L419.61 137.71 L421.28 138.7 L422.97 139.67 L424.67 140.62 L426.38 141.57 L428.07 142.53 L429.75 143.51 L431.4 144.54 L433.01 145.61 L434.6 146.74 L436.15 147.9 L437.69 149.1 L439.21 150.32 L440.73 151.55 L442.24 152.78 L443.76 154.01 L445.28 155.22 L446.82 156.42 L448.37 157.6 L449.92 158.78 L451.47 159.95 L453.02 161.12 L454.57 162.3 L456.11 163.5 L457.63 164.7 L459.14 165.92 L460.65 167.16 L462.14 168.41 L463.62 169.68 L465.09 170.95 L466.56 172.23 L468.02 173.52 L469.48 174.81 L470.94 176.1 L472.39 177.39 L473.84 178.69 L475.29 179.99 L476.73 181.3 L478.17 182.61 L479.61 183.92 L481.04 185.24 L482.46 186.57 L483.88 187.9 L485.3 189.23 L486.71 190.57 L488.13 191.91 L489.54 193.25 L490.95 194.59 L492.36 195.94 L493.77 197.28 L495.18 198.62 L496.59 199.96 L498.01 201.29 L499.43 202.62 L500.85 203.95 L502.28 205.27 L503.71 206.59 L505.15 207.9 L506.6 209.2" fill="none" stroke="#1caeee" stroke-width="1.05" stroke-linejoin="round"/>
<path d="M340.3 242.2 L341.6 241.03 L342.9 239.85 L344.2 238.68 L345.5 237.51 L346.8 236.34 L348.1 235.17 L349.4 234 L350.71 232.84 L352.01 231.67 L353.32 230.51 L354.63 229.34 L355.94 228.18 L357.25 227.02 L358.55 225.86 L359.87 224.7 L361.18 223.54 L362.49 222.38 L363.8 221.22 L365.11 220.06 L366.43 218.91 L367.74 217.75 L369.05 216.6 L370.37 215.44 L371.69 214.29 L373 213.13 L374.32 211.98 L375.63 210.83 L376.95 209.67 L378.27 208.52 L379.58 207.37 L380.9 206.21 L382.22 205.06 L383.53 203.9 L384.85 202.75 L386.16 201.59 L387.47 200.44 L388.78 199.28 L390.09 198.12 L391.4 196.96 L392.71 195.79 L394.02 194.63 L395.33 193.47 L396.64 192.31 L397.95 191.15 L399.26 189.99 L400.58 188.84 L401.9 187.68 L403.22 186.54 L404.54 185.39 L405.87 184.25 L407.2 183.12 L408.54 181.99 L409.88 180.87 L411.23 179.75 L412.58 178.64 L413.93 177.53 L415.29 176.42 L416.64 175.31 L418 174.21 L419.37 173.11 L420.73 172.01 L422.1 170.92 L423.47 169.83 L424.84 168.74 L426.22 167.66 L427.6 166.58 L428.99 165.52 L430.38 164.46 L431.79 163.42 L433.2 162.39 L434.62 161.37 L436.05 160.36 L437.49 159.37 L438.94 158.39 L440.39 157.4 L441.84 156.42 L443.29 155.44 L444.73 154.44 L446.16 153.44 L447.59 152.43 L449.02 151.41 L450.45 150.4 L451.88 149.39 L453.32 148.39 L454.76 147.4 L456.22 146.43 L457.68 145.48 L459.17 144.56 L460.67 143.66 L462.19 142.78 L463.71 141.92 L465.23 141.06 L466.76 140.2 L468.27 139.32 L469.79 138.45 L471.3 137.56 L472.81 136.68 L474.33 135.8 L475.84 134.93 L477.36 134.06 L478.89 133.21 L480.42 132.36 L481.97 131.54 L483.52 130.73 L485.08 129.95 L486.65 129.17 L488.23 128.42 L489.82 127.68 L491.41 126.95 L493.01 126.23 L494.61 125.53 L496.22 124.84 L497.84 124.17 L499.46 123.5 L501.08 122.84 L502.71 122.2 L504.34 121.56 L505.97 120.92 L507.6 120.3" fill="none" stroke="#1caeee" stroke-width="1.05" stroke-linejoin="round"/>
<path d="M385.2 86.1 L385.96 86.65 L386.73 87.21 L387.49 87.76 L388.26 88.31 L389.02 88.86 L389.79 89.41 L390.55 89.97 L391.32 90.52 L392.09 91.07 L392.85 91.61 L393.62 92.16 L394.39 92.7 L395.17 93.25 L395.94 93.79 L396.71 94.33 L397.49 94.87 L398.27 95.4 L399.05 95.93 L399.83 96.46 L400.61 96.99 L401.39 97.51 L402.18 98.03 L402.97 98.55 L403.76 99.06 L404.56 99.57 L405.35 100.07 L406.15 100.57 L406.96 101.07 L407.76 101.56 L408.57 102.05 L409.38 102.53 L410.19 103.01 L411 103.49 L411.81 103.97 L412.63 104.45 L413.44 104.92 L414.26 105.4 L415.07 105.87 L415.89 106.35 L416.7 106.82 L417.52 107.29 L418.33 107.77 L419.15 108.24 L419.97 108.71 L420.79 109.17 L421.61 109.64 L422.43 110.1 L423.25 110.56 L424.08 111.02 L424.91 111.48 L425.73 111.93 L426.56 112.38 L427.39 112.84 L428.22 113.29 L429.05 113.75 L429.87 114.21 L430.69 114.67 L431.51 115.14 L432.32 115.62 L433.13 116.1 L433.94 116.59 L434.73 117.1 L435.52 117.61 L436.3 118.14 L437.08 118.67 L437.85 119.22 L438.61 119.77 L439.37 120.33 L440.13 120.89 L440.88 121.46 L441.64 122.03 L442.39 122.6 L443.14 123.17 L443.89 123.74 L444.64 124.31 L445.4 124.88 L446.15 125.45 L446.9 126.02 L447.66 126.59 L448.41 127.16 L449.16 127.73 L449.91 128.3 L450.66 128.87 L451.4 129.45 L452.15 130.03 L452.89 130.61 L453.63 131.2 L454.36 131.79 L455.09 132.39 L455.82 132.99 L456.54 133.59 L457.26 134.2 L457.98 134.8 L458.7 135.41 L459.42 136.03 L460.14 136.64 L460.85 137.25 L461.57 137.87 L462.29 138.48 L463.01 139.09 L463.73 139.7 L464.45 140.31 L465.18 140.91 L465.9 141.52 L466.63 142.12 L467.35 142.73 L468.07 143.34 L468.78 143.96 L469.48 144.59 L470.16 145.24 L470.84 145.89 L471.5 146.56 L472.16 147.23 L472.8 147.92 L473.44 148.61 L474.07 149.32 L474.69 150.03 L475.3 150.75 L475.91 151.47 L476.51 152.2 L477.11 152.93 L477.71 153.66 L478.3 154.4 L478.89 155.14 L479.48 155.88 L480.07 156.62 L480.66 157.36 L481.26 158.09 L481.85 158.83 L482.45 159.56 L483.05 160.29 L483.65 161.02 L484.25 161.75 L484.85 162.47 L485.46 163.2 L486.06 163.92 L486.67 164.64 L487.28 165.36 L487.88 166.08 L488.49 166.8 L489.1 167.52 L489.7 168.25 L490.31 168.97 L490.91 169.69 L491.52 170.41 L492.12 171.13 L492.72 171.86 L493.33 172.58 L493.93 173.31 L494.52 174.04 L495.12 174.77 L495.71 175.5 L496.31 176.24 L496.9 176.97 L497.48 177.71 L498.07 178.45 L498.65 179.2 L499.23 179.95 L499.8 180.7" fill="none" stroke="#e92f38" stroke-width="1.0" stroke-linejoin="round"/>
<path d="M384.6 162 L385.25 161.45 L385.91 160.92 L386.57 160.39 L387.24 159.88 L387.92 159.37 L388.6 158.88 L389.29 158.39 L389.98 157.91 L390.68 157.44 L391.39 156.97 L392.1 156.52 L392.81 156.06 L393.53 155.62 L394.25 155.18 L394.97 154.74 L395.7 154.31 L396.42 153.88 L397.15 153.45 L397.89 153.03 L398.62 152.61 L399.36 152.19 L400.09 151.78 L400.83 151.36 L401.57 150.94 L402.31 150.53 L403.04 150.11 L403.78 149.7 L404.52 149.28 L405.25 148.86 L405.98 148.44 L406.71 148.01 L407.44 147.58 L408.17 147.16 L408.9 146.73 L409.63 146.29 L410.35 145.86 L411.08 145.43 L411.8 144.99 L412.53 144.56 L413.25 144.13 L413.98 143.7 L414.71 143.27 L415.43 142.83 L416.16 142.4 L416.88 141.97 L417.61 141.53 L418.33 141.09 L419.05 140.65 L419.77 140.21 L420.49 139.76 L421.21 139.31 L421.92 138.86 L422.63 138.4 L423.34 137.94 L424.04 137.48 L424.75 137.01 L425.45 136.54 L426.15 136.06 L426.85 135.58 L427.54 135.1 L428.23 134.62 L428.93 134.14 L429.62 133.65 L430.31 133.16 L431 132.67 L431.69 132.18 L432.37 131.69 L433.06 131.2 L433.75 130.7 L434.43 130.21 L435.12 129.71 L435.8 129.22 L436.49 128.72 L437.18 128.23 L437.86 127.74 L438.55 127.24 L439.24 126.75 L439.92 126.26 L440.61 125.77 L441.3 125.28 L441.99 124.79 L442.68 124.31 L443.38 123.83 L444.07 123.34 L444.77 122.86 L445.46 122.39 L446.16 121.91 L446.86 121.44 L447.57 120.97 L448.27 120.5 L448.98 120.04 L449.68 119.57 L450.39 119.11 L451.1 118.65 L451.81 118.2 L452.53 117.74 L453.24 117.29 L453.96 116.85 L454.68 116.4 L455.4 115.96 L456.12 115.52 L456.84 115.08 L457.57 114.64 L458.29 114.21 L459.02 113.78 L459.75 113.36 L460.48 112.93 L461.22 112.51 L461.95 112.1 L462.69 111.68 L463.43 111.27 L464.17 110.87 L464.91 110.46 L465.66 110.06 L466.41 109.67 L467.15 109.28 L467.91 108.89 L468.66 108.5 L469.41 108.12 L470.17 107.75 L470.93 107.37 L471.69 107.01 L472.45 106.64 L473.22 106.28 L473.98 105.92 L474.75 105.57 L475.52 105.22 L476.29 104.87 L477.06 104.53 L477.84 104.19 L478.61 103.85 L479.39 103.52 L480.17 103.19 L480.95 102.86 L481.73 102.54 L482.51 102.22 L483.3 101.91 L484.08 101.59 L484.87 101.28 L485.65 100.97 L486.44 100.67 L487.23 100.36 L488.02 100.05 L488.81 99.75 L489.6 99.45 L490.38 99.15 L491.17 98.84 L491.96 98.54 L492.75 98.24 L493.54 97.93 L494.33 97.62 L495.12 97.32 L495.9 97.01 L496.69 96.7 L497.47 96.38 L498.26 96.07 L499.04 95.75 L499.82 95.43 L500.6 95.1" fill="none" stroke="#e92f38" stroke-width="1.0" stroke-linejoin="round"/>
<path d="M385.93 85.09 L386.7 85.64 L387.46 86.19 L388.22 86.75 L388.99 87.3 L389.75 87.85 L390.52 88.4 L391.28 88.95 L392.05 89.5 L392.81 90.05 L393.58 90.59 L394.35 91.14 L395.11 91.68 L395.88 92.22 L396.65 92.76 L397.43 93.3 L398.2 93.84 L398.97 94.37 L399.75 94.9 L400.53 95.42 L401.3 95.95 L402.09 96.47 L402.87 96.98 L403.65 97.5 L404.44 98.01 L405.23 98.51 L406.02 99.01 L406.81 99.51 L407.61 100 L408.41 100.49 L409.21 100.98 L410.02 101.46 L410.82 101.94 L411.63 102.42 L412.44 102.89 L413.26 103.37 L414.07 103.85 L414.88 104.32 L415.7 104.79 L416.51 105.27 L417.33 105.74 L418.14 106.21 L418.96 106.68 L419.77 107.15 L420.59 107.62 L421.41 108.09 L422.22 108.55 L423.04 109.01 L423.86 109.47 L424.68 109.93 L425.51 110.38 L426.33 110.84 L427.16 111.29 L427.99 111.74 L428.82 112.2 L429.65 112.65 L430.48 113.12 L431.31 113.58 L432.14 114.06 L432.96 114.54 L433.78 115.03 L434.6 115.53 L435.41 116.04 L436.21 116.57 L437.01 117.1 L437.79 117.65 L438.57 118.2 L439.35 118.76 L440.12 119.32 L440.88 119.89 L441.64 120.46 L442.39 121.03 L443.15 121.61 L443.9 122.18 L444.65 122.75 L445.4 123.32 L446.15 123.89 L446.9 124.45 L447.66 125.02 L448.41 125.59 L449.16 126.16 L449.92 126.73 L450.67 127.31 L451.42 127.88 L452.17 128.46 L452.92 129.05 L453.66 129.63 L454.41 130.22 L455.15 130.82 L455.88 131.42 L456.61 132.02 L457.34 132.63 L458.07 133.24 L458.79 133.85 L459.51 134.46 L460.23 135.08 L460.95 135.69 L461.67 136.3 L462.38 136.92 L463.1 137.53 L463.82 138.14 L464.53 138.74 L465.25 139.35 L465.98 139.95 L466.7 140.56 L467.43 141.16 L468.16 141.78 L468.88 142.4 L469.61 143.03 L470.32 143.67 L471.02 144.33 L471.72 145 L472.4 145.68 L473.06 146.37 L473.72 147.07 L474.37 147.78 L475 148.49 L475.63 149.21 L476.25 149.94 L476.87 150.67 L477.48 151.4 L478.08 152.14 L478.68 152.88 L479.27 153.62 L479.87 154.36 L480.46 155.1 L481.05 155.84 L481.64 156.57" fill="none" stroke="#e92f38" stroke-width="1.0" stroke-linecap="round" stroke-dasharray="0.1 3.9" stroke-opacity="0.75" stroke-dashoffset="1.9"/>
<path d="M384.47 87.11 L385.23 87.67 L386 88.22 L386.76 88.77 L387.52 89.32 L388.29 89.88 L389.06 90.43 L389.82 90.98 L390.59 91.53 L391.36 92.08 L392.13 92.63 L392.9 93.18 L393.67 93.73 L394.45 94.27 L395.22 94.81 L396 95.36 L396.78 95.89 L397.56 96.43 L398.34 96.97 L399.13 97.5 L399.91 98.03 L400.7 98.55 L401.5 99.07 L402.29 99.59 L403.09 100.11 L403.89 100.62 L404.69 101.13 L405.49 101.63 L406.3 102.13 L407.11 102.63 L407.92 103.12 L408.73 103.61 L409.55 104.09 L410.36 104.57 L411.18 105.05 L412 105.53 L412.81 106 L413.63 106.48 L414.44 106.95 L415.26 107.43 L416.07 107.9 L416.89 108.38 L417.71 108.85 L418.53 109.32 L419.35 109.79 L420.17 110.26 L420.99 110.73 L421.82 111.19 L422.64 111.65 L423.47 112.12 L424.3 112.57 L425.13 113.03 L425.96 113.48 L426.79 113.93 L427.62 114.39 L428.44 114.84 L429.26 115.3 L430.07 115.76 L430.88 116.22 L431.69 116.69 L432.48 117.17 L433.27 117.65 L434.06 118.15 L434.83 118.65 L435.6 119.17 L436.36 119.7 L437.12 120.23 L437.88 120.78 L438.63 121.33 L439.38 121.89 L440.13 122.46 L440.88 123.02 L441.63 123.59 L442.38 124.17 L443.13 124.74 L443.89 125.31 L444.64 125.88 L445.4 126.45 L446.15 127.02 L446.9 127.59 L447.65 128.15 L448.4 128.72 L449.15 129.29 L449.9 129.86 L450.64 130.44 L451.38 131.01 L452.11 131.59 L452.84 132.18 L453.57 132.76 L454.3 133.35 L455.02 133.95 L455.74 134.55 L456.46 135.15 L457.18 135.76 L457.89 136.37 L458.61 136.98 L459.32 137.59 L460.04 138.2 L460.76 138.82 L461.48 139.43 L462.2 140.04 L462.92 140.65 L463.65 141.27 L464.38 141.87 L465.1 142.48 L465.82 143.08 L466.54 143.68 L467.25 144.29 L467.95 144.9 L468.63 145.51 L469.3 146.14 L469.96 146.78 L470.61 147.43 L471.25 148.09 L471.89 148.77 L472.51 149.45 L473.13 150.14 L473.74 150.85 L474.35 151.55 L474.95 152.27 L475.55 152.99 L476.14 153.72 L476.73 154.45 L477.32 155.18 L477.91 155.92 L478.5 156.66 L479.1 157.4 L479.69 158.14" fill="none" stroke="#e92f38" stroke-width="1.0" stroke-linecap="round" stroke-dasharray="0.1 3.9" stroke-opacity="0.75" stroke-dashoffset="0"/>
<path d="M477.2 151.6 L477.99 152.25 L478.78 152.9 L479.57 153.55 L480.35 154.21 L481.13 154.88 L481.9 155.55 L482.66 156.23 L483.42 156.93 L484.16 157.63 L484.89 158.35 L485.6 159.08 L486.3 159.83 L486.99 160.58 L487.66 161.35 L488.33 162.13 L489 162.9 L489.67 163.68 L490.34 164.45 L491.02 165.21 L491.71 165.97 L492.41 166.72 L493.11 167.47 L493.81 168.21 L494.53 168.94 L495.25 169.66 L495.98 170.38 L496.71 171.1 L497.45 171.8 L498.2 172.5" fill="none" stroke="#e92f38" stroke-width="1.0" stroke-linecap="round" stroke-dasharray="0.1 3.9" stroke-opacity="0.85"/>
<path d="M475.2 153.4 L475.8 154.31 L476.43 155.19 L477.09 156.05 L477.76 156.9 L478.44 157.75 L479.13 158.59 L479.8 159.44 L480.46 160.31 L481.09 161.19 L481.69 162.09 L482.27 163.01 L482.83 163.94 L483.38 164.87 L483.94 165.8 L484.5 166.73 L485.09 167.64 L485.69 168.54 L486.31 169.43 L486.95 170.31 L487.59 171.19 L488.25 172.06 L488.91 172.92 L489.56 173.79 L490.2 174.67 L490.81 175.56 L491.39 176.48 L491.93 177.41 L492.43 178.37 L492.92 179.35 L493.41 180.32 L493.92 181.27 L494.46 182.21 L495.06 183.12 L495.68 184.01 L496.33 184.88 L497 185.74 L497.67 186.59 L498.34 187.45 L499 188.3" fill="none" stroke="#e92f38" stroke-width="1.0" stroke-linecap="round" stroke-dasharray="0.1 3.9" stroke-opacity="0.85"/>
<path d="M384.6 167.2 L385.25 166.49 L385.91 165.8 L386.57 165.12 L387.24 164.45 L387.92 163.8 L388.6 163.15 L389.29 162.51 L389.98 161.89 L390.68 161.27 L391.39 160.66 L392.1 160.07 L392.81 159.47 L393.53 158.89 L394.25 158.31 L394.97 157.75 L395.7 157.18 L396.42 156.63 L397.15 156.08 L397.89 155.53 L398.62 154.99 L399.36 154.46 L400.09 153.93 L400.83 153.4 L401.57 152.88 L402.31 152.36 L403.04 151.85 L403.78 151.34 L404.52 150.84 L405.25 150.34 L405.98 149.84 L406.71 149.36 L407.44 148.9 L408.17 148.47 L408.9 148.04 L409.63 147.61 L410.35 147.17 L411.08 146.74 L411.8 146.31 L412.53 145.87 L413.25 145.44 L413.98 145.01 L414.71 144.58 L415.43 144.15 L416.16 143.71 L416.88 143.28 L417.61 142.84 L418.33 142.4 L419.05 141.96 L419.77 141.52 L420.49 141.07 L421.21 140.63 L421.92 140.17 L422.63 139.71 L423.34 139.25 L424.04 138.79 L424.75 138.32 L425.45 137.85 L426.15 137.37 L426.85 136.9 L427.54 136.42 L428.23 135.93 L428.93 135.45 L429.62 134.96 L430.31 134.48 L431 133.99 L431.69 133.49 L432.37 133 L433.06 132.51 L433.75 132.02 L434.43 131.52 L435.12 131.03 L435.8 130.53 L436.49 130.04 L437.18 129.54 L437.86 129.05 L438.55 128.56 L439.24 128.06 L439.92 127.57 L440.61 127.08 L441.3 126.59 L441.99 126.11 L442.68 125.62 L443.38 125.14 L444.07 124.66 L444.77 124.18 L445.46 123.7 L446.16 123.22 L446.86 122.75 L447.57 122.28 L448.27 121.81 L448.98 121.35 L449.68 120.89 L450.39 120.42 L451.1 119.97 L451.81 119.51 L452.53 119.06 L453.24 118.61 L453.96 118.16 L454.68 117.71 L455.4 117.27 L456.12 116.83 L456.84 116.39 L457.57 115.96 L458.29 115.52 L459.02 115.09 L459.75 114.67 L460.48 114.24 L461.22 113.82 L461.95 113.41 L462.69 112.99 L463.43 112.58 L464.17 112.18 L464.91 111.78 L465.66 111.38 L466.41 110.98 L467.15 110.59 L467.91 110.2 L468.66 109.82 L469.41 109.44 L470.17 109.06 L470.93 108.69 L471.69 108.32 L472.45 107.95 L473.22 107.59 L473.98 107.23 L474.75 106.88 L475.52 106.53 L476.29 106.18 L477.06 105.84 L477.84 105.5 L478.61 105.16 L479.39 104.83 L480.17 104.5 L480.95 104.18 L481.73 103.85 L482.51 103.56 L483.3 103.28 L484.08 102.99 L484.87 102.71 L485.65 102.43 L486.44 102.16 L487.23 101.88 L488.02 101.61 L488.81 101.34 L489.6 101.06 L490.38 100.79 L491.17 100.52 L491.96 100.25 L492.75 99.97 L493.54 99.7 L494.33 99.43 L495.12 99.15 L495.9 98.87 L496.69 98.59 L497.47 98.31 L498.26 98.02 L499.04 97.73 L499.82 97.44 L500.6 97.15" fill="none" stroke="#e92f38" stroke-width="1.0" stroke-linecap="round" stroke-dasharray="0.1 3.9" stroke-opacity="0.75" stroke-dashoffset="1.9"/>
<path d="M384.6 156.8 L385.25 156.41 L385.91 156.04 L386.57 155.67 L387.24 155.3 L387.92 154.95 L388.6 154.61 L389.29 154.27 L389.98 153.93 L390.68 153.61 L391.39 153.28 L392.1 152.97 L392.81 152.65 L393.53 152.34 L394.25 152.04 L394.97 151.73 L395.7 151.43 L396.42 151.13 L397.15 150.83 L397.89 150.53 L398.62 150.23 L399.36 149.93 L400.09 149.62 L400.83 149.32 L401.57 149.01 L402.31 148.69 L403.04 148.38 L403.78 148.05 L404.52 147.72 L405.25 147.38 L405.98 147.03 L406.71 146.67 L407.44 146.27 L408.17 145.84 L408.9 145.41 L409.63 144.98 L410.35 144.55 L411.08 144.12 L411.8 143.68 L412.53 143.25 L413.25 142.82 L413.98 142.38 L414.71 141.95 L415.43 141.52 L416.16 141.09 L416.88 140.65 L417.61 140.22 L418.33 139.78 L419.05 139.34 L419.77 138.9 L420.49 138.45 L421.21 138 L421.92 137.55 L422.63 137.09 L423.34 136.63 L424.04 136.16 L424.75 135.7 L425.45 135.22 L426.15 134.75 L426.85 134.27 L427.54 133.79 L428.23 133.31 L428.93 132.83 L429.62 132.34 L430.31 131.85 L431 131.36 L431.69 130.87 L432.37 130.38 L433.06 129.88 L433.75 129.39 L434.43 128.9 L435.12 128.4 L435.8 127.91 L436.49 127.41 L437.18 126.92 L437.86 126.42 L438.55 125.93 L439.24 125.44 L439.92 124.95 L440.61 124.46 L441.3 123.97 L441.99 123.48 L442.68 123 L443.38 122.51 L444.07 122.03 L444.77 121.55 L445.46 121.07 L446.16 120.6 L446.86 120.13 L447.57 119.66 L448.27 119.19 L448.98 118.72 L449.68 118.26 L450.39 117.8 L451.1 117.34 L451.81 116.89 L452.53 116.43 L453.24 115.98 L453.96 115.53 L454.68 115.09 L455.4 114.64 L456.12 114.2 L456.84 113.77 L457.57 113.33 L458.29 112.9 L459.02 112.47 L459.75 112.04 L460.48 111.62 L461.22 111.2 L461.95 110.78 L462.69 110.37 L463.43 109.96 L464.17 109.55 L464.91 109.15 L465.66 108.75 L466.41 108.36 L467.15 107.96 L467.91 107.58 L468.66 107.19 L469.41 106.81 L470.17 106.43 L470.93 106.06 L471.69 105.69 L472.45 105.33 L473.22 104.97 L473.98 104.61 L474.75 104.25 L475.52 103.9 L476.29 103.56 L477.06 103.21 L477.84 102.87 L478.61 102.54 L479.39 102.2 L480.17 101.88 L480.95 101.55 L481.73 101.23 L482.51 100.88 L483.3 100.54 L484.08 100.19 L484.87 99.85 L485.65 99.51 L486.44 99.17 L487.23 98.84 L488.02 98.5 L488.81 98.17 L489.6 97.83 L490.38 97.5 L491.17 97.16 L491.96 96.83 L492.75 96.5 L493.54 96.16 L494.33 95.82 L495.12 95.49 L495.9 95.15 L496.69 94.8 L497.47 94.46 L498.26 94.11 L499.04 93.76 L499.82 93.41 L500.6 93.05" fill="none" stroke="#e92f38" stroke-width="1.0" stroke-linecap="round" stroke-dasharray="0.1 3.9" stroke-opacity="0.75" stroke-dashoffset="0"/>
<rect x="311.4" y="35.75" width="206.8" height="206.65" fill="none" stroke="#1a1a1a" stroke-width="0.7"/>
<text transform="translate(310.8 256.5) scale(1 1.05) rotate(0.05)" text-anchor="middle" font-size="13.0" fill="#1c1c1c" >10</text>
<line x1="334.99" y1="242.4" x2="334.99" y2="239.2" stroke="#1a1a1a" stroke-width="0.7" />
<line x1="334.99" y1="35.75" x2="334.99" y2="38.95" stroke="#1a1a1a" stroke-width="0.7" />
<line x1="348.78" y1="242.4" x2="348.78" y2="239.2" stroke="#1a1a1a" stroke-width="0.7" />
<line x1="348.78" y1="35.75" x2="348.78" y2="38.95" stroke="#1a1a1a" stroke-width="0.7" />
<line x1="358.57" y1="242.4" x2="358.57" y2="239.2" stroke="#1a1a1a" stroke-width="0.7" />
<line x1="358.57" y1="35.75" x2="358.57" y2="38.95" stroke="#1a1a1a" stroke-width="0.7" />
<line x1="366.16" y1="242.4" x2="366.16" y2="239.2" stroke="#1a1a1a" stroke-width="0.7" />
<line x1="366.16" y1="35.75" x2="366.16" y2="38.95" stroke="#1a1a1a" stroke-width="0.7" />
<line x1="372.37" y1="242.4" x2="372.37" y2="239.2" stroke="#1a1a1a" stroke-width="0.7" />
<line x1="372.37" y1="35.75" x2="372.37" y2="38.95" stroke="#1a1a1a" stroke-width="0.7" />
<line x1="377.61" y1="242.4" x2="377.61" y2="239.2" stroke="#1a1a1a" stroke-width="0.7" />
<line x1="377.61" y1="35.75" x2="377.61" y2="38.95" stroke="#1a1a1a" stroke-width="0.7" />
<line x1="382.16" y1="242.4" x2="382.16" y2="239.2" stroke="#1a1a1a" stroke-width="0.7" />
<line x1="382.16" y1="35.75" x2="382.16" y2="38.95" stroke="#1a1a1a" stroke-width="0.7" />
<line x1="386.16" y1="242.4" x2="386.16" y2="239.2" stroke="#1a1a1a" stroke-width="0.7" />
<line x1="386.16" y1="35.75" x2="386.16" y2="38.95" stroke="#1a1a1a" stroke-width="0.7" />
<line x1="389.75" y1="242.4" x2="389.75" y2="236.6" stroke="#1a1a1a" stroke-width="0.7" />
<line x1="389.75" y1="35.75" x2="389.75" y2="41.55" stroke="#1a1a1a" stroke-width="0.7" />
<text transform="translate(389.15 256.5) scale(1 1.05) rotate(0.05)" text-anchor="middle" font-size="13.0" fill="#1c1c1c" >100</text>
<line x1="413.34" y1="242.4" x2="413.34" y2="239.2" stroke="#1a1a1a" stroke-width="0.7" />
<line x1="413.34" y1="35.75" x2="413.34" y2="38.95" stroke="#1a1a1a" stroke-width="0.7" />
<line x1="427.13" y1="242.4" x2="427.13" y2="239.2" stroke="#1a1a1a" stroke-width="0.7" />
<line x1="427.13" y1="35.75" x2="427.13" y2="38.95" stroke="#1a1a1a" stroke-width="0.7" />
<line x1="436.92" y1="242.4" x2="436.92" y2="239.2" stroke="#1a1a1a" stroke-width="0.7" />
<line x1="436.92" y1="35.75" x2="436.92" y2="38.95" stroke="#1a1a1a" stroke-width="0.7" />
<line x1="444.51" y1="242.4" x2="444.51" y2="239.2" stroke="#1a1a1a" stroke-width="0.7" />
<line x1="444.51" y1="35.75" x2="444.51" y2="38.95" stroke="#1a1a1a" stroke-width="0.7" />
<line x1="450.72" y1="242.4" x2="450.72" y2="239.2" stroke="#1a1a1a" stroke-width="0.7" />
<line x1="450.72" y1="35.75" x2="450.72" y2="38.95" stroke="#1a1a1a" stroke-width="0.7" />
<line x1="455.96" y1="242.4" x2="455.96" y2="239.2" stroke="#1a1a1a" stroke-width="0.7" />
<line x1="455.96" y1="35.75" x2="455.96" y2="38.95" stroke="#1a1a1a" stroke-width="0.7" />
<line x1="460.51" y1="242.4" x2="460.51" y2="239.2" stroke="#1a1a1a" stroke-width="0.7" />
<line x1="460.51" y1="35.75" x2="460.51" y2="38.95" stroke="#1a1a1a" stroke-width="0.7" />
<line x1="464.51" y1="242.4" x2="464.51" y2="239.2" stroke="#1a1a1a" stroke-width="0.7" />
<line x1="464.51" y1="35.75" x2="464.51" y2="38.95" stroke="#1a1a1a" stroke-width="0.7" />
<line x1="468.1" y1="242.4" x2="468.1" y2="236.6" stroke="#1a1a1a" stroke-width="0.7" />
<line x1="468.1" y1="35.75" x2="468.1" y2="41.55" stroke="#1a1a1a" stroke-width="0.7" />
<text transform="translate(467.5 256.5) scale(1 1.05) rotate(0.05)" text-anchor="middle" font-size="13.0" fill="#1c1c1c" >1000</text>
<line x1="491.69" y1="242.4" x2="491.69" y2="239.2" stroke="#1a1a1a" stroke-width="0.7" />
<line x1="491.69" y1="35.75" x2="491.69" y2="38.95" stroke="#1a1a1a" stroke-width="0.7" />
<line x1="505.48" y1="242.4" x2="505.48" y2="239.2" stroke="#1a1a1a" stroke-width="0.7" />
<line x1="505.48" y1="35.75" x2="505.48" y2="38.95" stroke="#1a1a1a" stroke-width="0.7" />
<line x1="515.27" y1="242.4" x2="515.27" y2="239.2" stroke="#1a1a1a" stroke-width="0.7" />
<line x1="515.27" y1="35.75" x2="515.27" y2="38.95" stroke="#1a1a1a" stroke-width="0.7" />
<line x1="311.4" y1="232.03" x2="314.6" y2="232.03" stroke="#1a1a1a" stroke-width="0.7" />
<line x1="518.2" y1="232.03" x2="515" y2="232.03" stroke="#1a1a1a" stroke-width="0.7" />
<line x1="311.4" y1="225.97" x2="314.6" y2="225.97" stroke="#1a1a1a" stroke-width="0.7" />
<line x1="518.2" y1="225.97" x2="515" y2="225.97" stroke="#1a1a1a" stroke-width="0.7" />
<line x1="311.4" y1="221.66" x2="314.6" y2="221.66" stroke="#1a1a1a" stroke-width="0.7" />
<line x1="518.2" y1="221.66" x2="515" y2="221.66" stroke="#1a1a1a" stroke-width="0.7" />
<line x1="311.4" y1="218.33" x2="314.6" y2="218.33" stroke="#1a1a1a" stroke-width="0.7" />
<line x1="518.2" y1="218.33" x2="515" y2="218.33" stroke="#1a1a1a" stroke-width="0.7" />
<line x1="311.4" y1="215.6" x2="314.6" y2="215.6" stroke="#1a1a1a" stroke-width="0.7" />
<line x1="518.2" y1="215.6" x2="515" y2="215.6" stroke="#1a1a1a" stroke-width="0.7" />
<line x1="311.4" y1="213.29" x2="314.6" y2="213.29" stroke="#1a1a1a" stroke-width="0.7" />
<line x1="518.2" y1="213.29" x2="515" y2="213.29" stroke="#1a1a1a" stroke-width="0.7" />
<line x1="311.4" y1="211.3" x2="314.6" y2="211.3" stroke="#1a1a1a" stroke-width="0.7" />
<line x1="518.2" y1="211.3" x2="515" y2="211.3" stroke="#1a1a1a" stroke-width="0.7" />
<line x1="311.4" y1="209.53" x2="314.6" y2="209.53" stroke="#1a1a1a" stroke-width="0.7" />
<line x1="518.2" y1="209.53" x2="515" y2="209.53" stroke="#1a1a1a" stroke-width="0.7" />
<text transform="translate(304.6 246.9) scale(1 1.05) rotate(0.05)" text-anchor="end" font-size="13.0" fill="#1c1c1c" >10<tspan font-size="9.6" dy="-4.4">11</tspan></text>
<line x1="311.4" y1="207.96" x2="317.2" y2="207.96" stroke="#1a1a1a" stroke-width="0.7" />
<line x1="518.2" y1="207.96" x2="512.4" y2="207.96" stroke="#1a1a1a" stroke-width="0.7" />
<line x1="311.4" y1="197.59" x2="314.6" y2="197.59" stroke="#1a1a1a" stroke-width="0.7" />
<line x1="518.2" y1="197.59" x2="515" y2="197.59" stroke="#1a1a1a" stroke-width="0.7" />
<line x1="311.4" y1="191.53" x2="314.6" y2="191.53" stroke="#1a1a1a" stroke-width="0.7" />
<line x1="518.2" y1="191.53" x2="515" y2="191.53" stroke="#1a1a1a" stroke-width="0.7" />
<line x1="311.4" y1="187.22" x2="314.6" y2="187.22" stroke="#1a1a1a" stroke-width="0.7" />
<line x1="518.2" y1="187.22" x2="515" y2="187.22" stroke="#1a1a1a" stroke-width="0.7" />
<line x1="311.4" y1="183.88" x2="314.6" y2="183.88" stroke="#1a1a1a" stroke-width="0.7" />
<line x1="518.2" y1="183.88" x2="515" y2="183.88" stroke="#1a1a1a" stroke-width="0.7" />
<line x1="311.4" y1="181.16" x2="314.6" y2="181.16" stroke="#1a1a1a" stroke-width="0.7" />
<line x1="518.2" y1="181.16" x2="515" y2="181.16" stroke="#1a1a1a" stroke-width="0.7" />
<line x1="311.4" y1="178.85" x2="314.6" y2="178.85" stroke="#1a1a1a" stroke-width="0.7" />
<line x1="518.2" y1="178.85" x2="515" y2="178.85" stroke="#1a1a1a" stroke-width="0.7" />
<line x1="311.4" y1="176.85" x2="314.6" y2="176.85" stroke="#1a1a1a" stroke-width="0.7" />
<line x1="518.2" y1="176.85" x2="515" y2="176.85" stroke="#1a1a1a" stroke-width="0.7" />
<line x1="311.4" y1="175.09" x2="314.6" y2="175.09" stroke="#1a1a1a" stroke-width="0.7" />
<line x1="518.2" y1="175.09" x2="515" y2="175.09" stroke="#1a1a1a" stroke-width="0.7" />
<text transform="translate(304.6 212.46) scale(1 1.05) rotate(0.05)" text-anchor="end" font-size="13.0" fill="#1c1c1c" >10<tspan font-size="9.6" dy="-4.4">12</tspan></text>
<line x1="311.4" y1="173.52" x2="317.2" y2="173.52" stroke="#1a1a1a" stroke-width="0.7" />
<line x1="518.2" y1="173.52" x2="512.4" y2="173.52" stroke="#1a1a1a" stroke-width="0.7" />
<line x1="311.4" y1="163.15" x2="314.6" y2="163.15" stroke="#1a1a1a" stroke-width="0.7" />
<line x1="518.2" y1="163.15" x2="515" y2="163.15" stroke="#1a1a1a" stroke-width="0.7" />
<line x1="311.4" y1="157.08" x2="314.6" y2="157.08" stroke="#1a1a1a" stroke-width="0.7" />
<line x1="518.2" y1="157.08" x2="515" y2="157.08" stroke="#1a1a1a" stroke-width="0.7" />
<line x1="311.4" y1="152.78" x2="314.6" y2="152.78" stroke="#1a1a1a" stroke-width="0.7" />
<line x1="518.2" y1="152.78" x2="515" y2="152.78" stroke="#1a1a1a" stroke-width="0.7" />
<line x1="311.4" y1="149.44" x2="314.6" y2="149.44" stroke="#1a1a1a" stroke-width="0.7" />
<line x1="518.2" y1="149.44" x2="515" y2="149.44" stroke="#1a1a1a" stroke-width="0.7" />
<line x1="311.4" y1="146.72" x2="314.6" y2="146.72" stroke="#1a1a1a" stroke-width="0.7" />
<line x1="518.2" y1="146.72" x2="515" y2="146.72" stroke="#1a1a1a" stroke-width="0.7" />
<line x1="311.4" y1="144.41" x2="314.6" y2="144.41" stroke="#1a1a1a" stroke-width="0.7" />
<line x1="518.2" y1="144.41" x2="515" y2="144.41" stroke="#1a1a1a" stroke-width="0.7" />
<line x1="311.4" y1="142.41" x2="314.6" y2="142.41" stroke="#1a1a1a" stroke-width="0.7" />
<line x1="518.2" y1="142.41" x2="515" y2="142.41" stroke="#1a1a1a" stroke-width="0.7" />
<line x1="311.4" y1="140.65" x2="314.6" y2="140.65" stroke="#1a1a1a" stroke-width="0.7" />
<line x1="518.2" y1="140.65" x2="515" y2="140.65" stroke="#1a1a1a" stroke-width="0.7" />
<text transform="translate(304.6 178.02) scale(1 1.05) rotate(0.05)" text-anchor="end" font-size="13.0" fill="#1c1c1c" >10<tspan font-size="9.6" dy="-4.4">13</tspan></text>
<line x1="311.4" y1="139.07" x2="317.2" y2="139.07" stroke="#1a1a1a" stroke-width="0.7" />
<line x1="518.2" y1="139.07" x2="512.4" y2="139.07" stroke="#1a1a1a" stroke-width="0.7" />
<line x1="311.4" y1="128.71" x2="314.6" y2="128.71" stroke="#1a1a1a" stroke-width="0.7" />
<line x1="518.2" y1="128.71" x2="515" y2="128.71" stroke="#1a1a1a" stroke-width="0.7" />
<line x1="311.4" y1="122.64" x2="314.6" y2="122.64" stroke="#1a1a1a" stroke-width="0.7" />
<line x1="518.2" y1="122.64" x2="515" y2="122.64" stroke="#1a1a1a" stroke-width="0.7" />
<line x1="311.4" y1="118.34" x2="314.6" y2="118.34" stroke="#1a1a1a" stroke-width="0.7" />
<line x1="518.2" y1="118.34" x2="515" y2="118.34" stroke="#1a1a1a" stroke-width="0.7" />
<line x1="311.4" y1="115" x2="314.6" y2="115" stroke="#1a1a1a" stroke-width="0.7" />
<line x1="518.2" y1="115" x2="515" y2="115" stroke="#1a1a1a" stroke-width="0.7" />
<line x1="311.4" y1="112.27" x2="314.6" y2="112.27" stroke="#1a1a1a" stroke-width="0.7" />
<line x1="518.2" y1="112.27" x2="515" y2="112.27" stroke="#1a1a1a" stroke-width="0.7" />
<line x1="311.4" y1="109.97" x2="314.6" y2="109.97" stroke="#1a1a1a" stroke-width="0.7" />
<line x1="518.2" y1="109.97" x2="515" y2="109.97" stroke="#1a1a1a" stroke-width="0.7" />
<line x1="311.4" y1="107.97" x2="314.6" y2="107.97" stroke="#1a1a1a" stroke-width="0.7" />
<line x1="518.2" y1="107.97" x2="515" y2="107.97" stroke="#1a1a1a" stroke-width="0.7" />
<line x1="311.4" y1="106.21" x2="314.6" y2="106.21" stroke="#1a1a1a" stroke-width="0.7" />
<line x1="518.2" y1="106.21" x2="515" y2="106.21" stroke="#1a1a1a" stroke-width="0.7" />
<text transform="translate(304.6 143.57) scale(1 1.05) rotate(0.05)" text-anchor="end" font-size="13.0" fill="#1c1c1c" >10<tspan font-size="9.6" dy="-4.4">14</tspan></text>
<line x1="311.4" y1="104.63" x2="317.2" y2="104.63" stroke="#1a1a1a" stroke-width="0.7" />
<line x1="518.2" y1="104.63" x2="512.4" y2="104.63" stroke="#1a1a1a" stroke-width="0.7" />
<line x1="311.4" y1="94.27" x2="314.6" y2="94.27" stroke="#1a1a1a" stroke-width="0.7" />
<line x1="518.2" y1="94.27" x2="515" y2="94.27" stroke="#1a1a1a" stroke-width="0.7" />
<line x1="311.4" y1="88.2" x2="314.6" y2="88.2" stroke="#1a1a1a" stroke-width="0.7" />
<line x1="518.2" y1="88.2" x2="515" y2="88.2" stroke="#1a1a1a" stroke-width="0.7" />
<line x1="311.4" y1="83.9" x2="314.6" y2="83.9" stroke="#1a1a1a" stroke-width="0.7" />
<line x1="518.2" y1="83.9" x2="515" y2="83.9" stroke="#1a1a1a" stroke-width="0.7" />
<line x1="311.4" y1="80.56" x2="314.6" y2="80.56" stroke="#1a1a1a" stroke-width="0.7" />
<line x1="518.2" y1="80.56" x2="515" y2="80.56" stroke="#1a1a1a" stroke-width="0.7" />
<line x1="311.4" y1="77.83" x2="314.6" y2="77.83" stroke="#1a1a1a" stroke-width="0.7" />
<line x1="518.2" y1="77.83" x2="515" y2="77.83" stroke="#1a1a1a" stroke-width="0.7" />
<line x1="311.4" y1="75.53" x2="314.6" y2="75.53" stroke="#1a1a1a" stroke-width="0.7" />
<line x1="518.2" y1="75.53" x2="515" y2="75.53" stroke="#1a1a1a" stroke-width="0.7" />
<line x1="311.4" y1="73.53" x2="314.6" y2="73.53" stroke="#1a1a1a" stroke-width="0.7" />
<line x1="518.2" y1="73.53" x2="515" y2="73.53" stroke="#1a1a1a" stroke-width="0.7" />
<line x1="311.4" y1="71.77" x2="314.6" y2="71.77" stroke="#1a1a1a" stroke-width="0.7" />
<line x1="518.2" y1="71.77" x2="515" y2="71.77" stroke="#1a1a1a" stroke-width="0.7" />
<text transform="translate(304.6 109.13) scale(1 1.05) rotate(0.05)" text-anchor="end" font-size="13.0" fill="#1c1c1c" >10<tspan font-size="9.6" dy="-4.4">15</tspan></text>
<line x1="311.4" y1="70.19" x2="317.2" y2="70.19" stroke="#1a1a1a" stroke-width="0.7" />
<line x1="518.2" y1="70.19" x2="512.4" y2="70.19" stroke="#1a1a1a" stroke-width="0.7" />
<line x1="311.4" y1="59.82" x2="314.6" y2="59.82" stroke="#1a1a1a" stroke-width="0.7" />
<line x1="518.2" y1="59.82" x2="515" y2="59.82" stroke="#1a1a1a" stroke-width="0.7" />
<line x1="311.4" y1="53.76" x2="314.6" y2="53.76" stroke="#1a1a1a" stroke-width="0.7" />
<line x1="518.2" y1="53.76" x2="515" y2="53.76" stroke="#1a1a1a" stroke-width="0.7" />
<line x1="311.4" y1="49.46" x2="314.6" y2="49.46" stroke="#1a1a1a" stroke-width="0.7" />
<line x1="518.2" y1="49.46" x2="515" y2="49.46" stroke="#1a1a1a" stroke-width="0.7" />
<line x1="311.4" y1="46.12" x2="314.6" y2="46.12" stroke="#1a1a1a" stroke-width="0.7" />
<line x1="518.2" y1="46.12" x2="515" y2="46.12" stroke="#1a1a1a" stroke-width="0.7" />
<line x1="311.4" y1="43.39" x2="314.6" y2="43.39" stroke="#1a1a1a" stroke-width="0.7" />
<line x1="518.2" y1="43.39" x2="515" y2="43.39" stroke="#1a1a1a" stroke-width="0.7" />
<line x1="311.4" y1="41.09" x2="314.6" y2="41.09" stroke="#1a1a1a" stroke-width="0.7" />
<line x1="518.2" y1="41.09" x2="515" y2="41.09" stroke="#1a1a1a" stroke-width="0.7" />
<line x1="311.4" y1="39.09" x2="314.6" y2="39.09" stroke="#1a1a1a" stroke-width="0.7" />
<line x1="518.2" y1="39.09" x2="515" y2="39.09" stroke="#1a1a1a" stroke-width="0.7" />
<line x1="311.4" y1="37.33" x2="314.6" y2="37.33" stroke="#1a1a1a" stroke-width="0.7" />
<line x1="518.2" y1="37.33" x2="515" y2="37.33" stroke="#1a1a1a" stroke-width="0.7" />
<text transform="translate(304.6 74.69) scale(1 1.05) rotate(0.05)" text-anchor="end" font-size="13.0" fill="#1c1c1c" >10<tspan font-size="9.6" dy="-4.4">16</tspan></text>
<text transform="translate(304.6 40.25) scale(1 1.05) rotate(0.05)" text-anchor="end" font-size="13.0" fill="#1c1c1c" >10<tspan font-size="9.6" dy="-4.4">17</tspan></text>
<text transform="translate(414 270.6) scale(1 0.96) rotate(0.05)" text-anchor="middle" font-size="13" fill="#1c1c1c" ><tspan font-style="italic">r</tspan>, kpc</text>
<text transform="translate(273.3 201.2) rotate(-90) scale(1.0 0.95)" font-size="13" fill="#1c1c1c" font-style="italic">M</text>
<text transform="translate(273.3 189.8) rotate(-90) scale(1.0 0.95)" font-size="13" fill="#1c1c1c" >,</text>
<text transform="translate(273.3 183.3) rotate(-90) scale(1.0 0.95)" font-size="13" fill="#1c1c1c" font-style="italic">M</text>
<circle cx="273.1" cy="169.3" r="3.05" fill="none" stroke="#1c1c1c" stroke-width="0.6"/><circle cx="273.1" cy="169.3" r="0.75" fill="#1c1c1c"/>
<text transform="translate(273.3 151.2) rotate(-90) scale(1.0 0.95)" font-size="13" fill="#1c1c1c" font-style="italic">ρ</text>
<text transform="translate(273.3 141.8) rotate(-90) scale(1.0 0.95)" font-size="13" fill="#1c1c1c" >,</text>
<text transform="translate(273.3 136.4) rotate(-90) scale(1.0 0.95)" font-size="13" fill="#1c1c1c" font-style="italic">M</text>
<circle cx="273.1" cy="122.1" r="3.05" fill="none" stroke="#1c1c1c" stroke-width="0.6"/><circle cx="273.1" cy="122.1" r="0.75" fill="#1c1c1c"/>
<text transform="translate(273.3 114.9) rotate(-90) scale(0.93 0.95)" font-size="13" fill="#1c1c1c" >M</text>
<text transform="translate(273.3 102.9) rotate(-90) scale(0.86 0.95)" font-size="13" fill="#1c1c1c" >p</text>
<text transform="translate(273.3 96.9) rotate(-90) scale(0.78 0.95)" font-size="13" fill="#1c1c1c" >c</text>
<text transform="translate(270.7 91.7) rotate(-90) scale(1.0 0.95)" font-size="12" fill="#1c1c1c" >−</text>
<text transform="translate(269.3 83.6) rotate(-90) scale(1.0 0.95)" font-size="11" fill="#1c1c1c" >3</text>
<text transform="translate(500.7 58.6) scale(0.9 1.04) rotate(0.05)" text-anchor="middle" font-size="14.8" fill="#1c1c1c" font-style="italic" font-weight="bold">b</text>
<line x1="756.45" y1="39.0" x2="756.45" y2="241.4" stroke="#444" stroke-width="0.9" stroke-dasharray="0.95 3.39"/>
<path d="M662.2 136.8 L662.72 136.2 L663.25 135.61 L663.78 135.01 L664.32 134.42 L664.86 133.84 L665.4 133.25 L665.94 132.67 L666.49 132.09 L667.04 131.52 L667.59 130.94 L668.14 130.37 L668.69 129.8 L669.25 129.23 L669.81 128.67 L670.37 128.1 L670.93 127.54 L671.49 126.97 L672.05 126.41 L672.62 125.85 L673.18 125.29 L673.75 124.73 L674.31 124.17 L674.88 123.61 L675.44 123.05 L676.01 122.49 L676.57 121.93 L677.13 121.36 L677.7 120.8 L678.26 120.24 L678.82 119.68 L679.38 119.11 L679.94 118.55 L680.5 117.98 L681.06 117.42 L681.62 116.85 L682.18 116.29 L682.74 115.72 L683.3 115.16 L683.86 114.6 L684.42 114.03 L684.99 113.47 L685.55 112.91 L686.12 112.35 L686.69 111.79 L687.26 111.24 L687.84 110.69 L688.41 110.13 L688.98 109.58 L689.56 109.02 L690.13 108.47 L690.7 107.91 L691.26 107.34 L691.81 106.77 L692.36 106.2 L692.9 105.62 L693.44 105.03 L693.96 104.43 L694.47 103.82 L694.96 103.2 L695.45 102.57 L695.93 101.94 L696.41 101.3 L696.89 100.67 L697.37 100.03 L697.85 99.4 L698.34 98.77 L698.84 98.15 L699.35 97.54 L699.87 96.94 L700.42 96.35 L700.98 95.78 L701.56 95.23 L702.16 94.7 L702.77 94.18 L703.4 93.68 L704.05 93.21 L704.71 92.75 L705.38 92.32 L706.07 91.91 L706.76 91.52 L707.47 91.16 L708.19 90.83 L708.93 90.52 L709.67 90.23 L710.41 89.96 L711.17 89.71 L711.93 89.47 L712.7 89.25 L713.47 89.04 L714.24 88.84 L715.02 88.64 L715.79 88.45 L716.57 88.26 L717.35 88.08 L718.13 87.89 L718.9 87.71 L719.68 87.53 L720.46 87.36 L721.23 87.18 L722.01 87.01 L722.79 86.83 L723.56 86.66 L724.34 86.49 L725.11 86.32 L725.89 86.15 L726.67 85.98 L727.44 85.81 L728.22 85.64 L728.99 85.47 L729.77 85.3 L730.54 85.12 L731.32 84.95 L732.09 84.78 L732.86 84.61 L733.64 84.43 L734.41 84.25 L735.19 84.08 L735.96 83.9 L736.73 83.71 L737.51 83.53 L738.28 83.34 L739.06 83.15 L739.83 82.96 L740.6 82.76 L741.38 82.56 L742.15 82.36 L742.93 82.15 L743.7 81.93 L744.46 81.71 L745.22 81.46 L745.97 81.19 L746.71 80.9 L747.44 80.58 L748.15 80.22 L748.84 79.83 L749.51 79.41 L750.16 78.96 L750.8 78.48 L751.42 77.97 L752.03 77.45 L752.62 76.9 L753.19 76.34 L753.75 75.76 L754.3 75.18 L754.83 74.58 L755.35 73.98 L755.86 73.36 L756.36 72.75 L756.85 72.12 L757.33 71.49 L757.81 70.86 L758.29 70.22 L758.76 69.58 L759.24 68.94 L759.7 68.29 L760.17 67.64 L760.63 66.99 L761.08 66.33 L761.53 65.67 L761.96 65.01 L762.38 64.33 L762.79 63.65 L763.19 62.96 L763.57 62.27 L763.94 61.57 L764.29 60.85 L764.62 60.14 L764.94 59.41 L765.25 58.68 L765.55 57.94 L765.83 57.2 L766.11 56.45 L766.37 55.7 L766.63 54.95 L766.88 54.19 L767.12 53.42 L767.36 52.66 L767.59 51.89 L767.82 51.12 L768.04 50.35 L768.27 49.58 L768.49 48.8 L768.7 48.03 L768.92 47.26 L769.14 46.48 L769.37 45.71 L769.59 44.94 L769.82 44.18 L770.05 43.41 L770.29 42.65 L770.53 41.89 L770.78 41.14 L771.04 40.39 L771.31 39.64 L771.58 38.9 L771.87 38.17 L772.17 37.44 L772.48 36.72 L772.8 36" fill="none" stroke="#e92f38" stroke-width="1.15" stroke-linecap="round" stroke-dasharray="0.1 4.0" stroke-opacity="0.9"/>
<path d="M660.3 184.7 L660.75 184 L661.2 183.3 L661.63 182.59 L662.05 181.88 L662.46 181.16 L662.86 180.43 L663.25 179.71 L663.63 178.98 L664 178.24 L664.36 177.5 L664.72 176.76 L665.07 176.02 L665.41 175.27 L665.75 174.52 L666.08 173.76 L666.4 173.01 L666.72 172.25 L667.04 171.49 L667.35 170.73 L667.65 169.96 L667.96 169.2 L668.26 168.43 L668.56 167.66 L668.85 166.89 L669.15 166.13 L669.44 165.36 L669.74 164.58 L670.03 163.81 L670.32 163.04 L670.62 162.27 L670.91 161.5 L671.21 160.74 L671.51 159.97 L671.82 159.2 L672.12 158.43 L672.43 157.67 L672.74 156.91 L673.06 156.14 L673.38 155.38 L673.7 154.63 L674.03 153.87 L674.36 153.11 L674.69 152.36 L675.03 151.61 L675.37 150.86 L675.72 150.12 L676.08 149.37 L676.43 148.63 L676.8 147.89 L677.17 147.15 L677.54 146.42 L677.92 145.69 L678.3 144.96 L678.69 144.23 L679.08 143.5 L679.47 142.78 L679.87 142.06 L680.27 141.34 L680.68 140.62 L681.09 139.91 L681.5 139.19 L681.91 138.48 L682.33 137.76 L682.75 137.05 L683.17 136.34 L683.59 135.64 L684.02 134.93 L684.45 134.23 L684.89 133.53 L685.33 132.83 L685.77 132.14 L686.22 131.45 L686.68 130.76 L687.15 130.08 L687.62 129.41 L688.1 128.74 L688.59 128.08 L689.08 127.42 L689.59 126.77 L690.1 126.12 L690.62 125.48 L691.14 124.84 L691.67 124.21 L692.21 123.59 L692.75 122.96 L693.29 122.34 L693.84 121.73 L694.4 121.12 L694.95 120.51 L695.51 119.9 L696.08 119.3 L696.64 118.7 L697.22 118.11 L697.79 117.52 L698.37 116.93 L698.96 116.35 L699.55 115.78 L700.15 115.21 L700.75 114.65 L701.36 114.09 L701.97 113.55 L702.59 113 L703.22 112.47 L703.86 111.94 L704.49 111.42 L705.14 110.91 L705.79 110.4 L706.45 109.91 L707.11 109.41 L707.78 108.93 L708.46 108.46 L709.14 107.99 L709.82 107.53 L710.52 107.08 L711.22 106.64 L711.92 106.2 L712.63 105.78 L713.34 105.36 L714.06 104.95 L714.79 104.56 L715.52 104.17 L716.26 103.79 L717 103.42 L717.74 103.06 L718.49 102.72 L719.25 102.38 L720.01 102.06 L720.77 101.75 L721.54 101.45 L722.32 101.16 L723.09 100.89 L723.88 100.63 L724.66 100.38 L725.45 100.15 L726.24 99.93 L727.04 99.72 L727.84 99.53 L728.64 99.34 L729.45 99.17 L730.26 99 L731.07 98.85 L731.88 98.7 L732.69 98.56 L733.51 98.43 L734.33 98.3 L735.14 98.18 L735.96 98.06 L736.78 97.95 L737.6 97.84 L738.42 97.73 L739.24 97.62 L740.06 97.51 L740.88 97.39 L741.7 97.28 L742.52 97.15 L743.33 97.02 L744.14 96.88 L744.95 96.74 L745.76 96.58 L746.56 96.41 L747.36 96.22 L748.16 96.03 L748.95 95.81 L749.74 95.58 L750.53 95.34 L751.31 95.09 L752.09 94.83 L752.87 94.57 L753.66 94.31 L754.44 94.05 L755.23 93.8 L756.02 93.56 L756.81 93.33 L757.61 93.1 L758.4 92.88 L759.2 92.65 L760 92.43 L760.79 92.21 L761.59 91.99 L762.38 91.77 L763.17 91.54 L763.96 91.3 L764.75 91.06 L765.53 90.81 L766.31 90.56 L767.08 90.29 L767.85 90.01 L768.62 89.71 L769.37 89.4 L770.12 89.08 L770.87 88.73 L771.6 88.37 L772.33 87.99 L773.05 87.59 L773.76 87.16 L774.46 86.71 L775.15 86.23 L775.83 85.73 L776.5 85.2" fill="none" stroke="#e92f38" stroke-width="1.15" stroke-linecap="round" stroke-dasharray="0.1 4.0" stroke-opacity="0.9"/>
<path d="M660.2 168.2 L660.8 167.21 L661.38 166.2 L661.92 165.16 L662.43 164.12 L662.93 163.05 L663.4 161.98 L663.86 160.89 L664.31 159.79 L664.75 158.69 L665.19 157.59 L665.62 156.49 L666.06 155.38 L666.51 154.28 L666.96 153.19 L667.43 152.1 L667.91 151.03 L668.42 149.97 L668.94 148.92 L669.5 147.89 L670.09 146.88 L670.71 145.89 L671.37 144.92 L672.07 143.98 L672.8 143.07 L673.54 142.16 L674.28 141.24 L675 140.32 L675.69 139.37 L676.32 138.38 L676.9 137.37 L677.45 136.33 L677.97 135.28 L678.49 134.22 L679 133.16 L679.54 132.11 L680.1 131.08 L680.7 130.08 L681.35 129.1 L682.02 128.14 L682.72 127.2 L683.42 126.25 L684.11 125.3 L684.79 124.34 L685.46 123.38 L686.13 122.41 L686.79 121.44 L687.47 120.48 L688.15 119.53 L688.85 118.59 L689.57 117.67 L690.32 116.77 L691.08 115.88 L691.86 115 L692.65 114.13 L693.44 113.27 L694.25 112.41 L695.06 111.56 L695.87 110.7 L696.68 109.84 L697.49 108.99 L698.31 108.15 L699.15 107.33 L700 106.52 L700.87 105.74 L701.77 104.98 L702.69 104.26 L703.63 103.57 L704.61 102.92 L705.61 102.29 L706.62 101.7 L707.66 101.14 L708.71 100.61 L709.77 100.1 L710.85 99.62 L711.93 99.17 L713.02 98.73 L714.11 98.31 L715.21 97.9 L716.31 97.49 L717.42 97.1 L718.52 96.7 L719.62 96.3 L720.73 95.9 L721.83 95.5 L722.93 95.09 L724.03 94.69 L725.13 94.28 L726.23 93.87 L727.33 93.45 L728.43 93.04 L729.52 92.62 L730.62 92.21 L731.72 91.79 L732.81 91.38 L733.91 90.96 L735.01 90.54 L736.11 90.13 L737.2 89.71 L738.3 89.3 L740 89.9 L741.6 90.6 L743.5 89.6 L745 89.6 L750.5 87.3 L754.5 85 L757.8 82.8 L760.2 80.4 L761.9 78.4 L763.5 79.8 L765.2 76.6 L766.8 73.4 L767.6 76.6 L768.6 72 L770 67.3 L772 64.4 L775.7 60 L777.4 58.3" fill="none" stroke="#e92f38" stroke-width="0.95" stroke-linejoin="round"/>
<line x1="668.1" y1="98.8" x2="691.6" y2="98.8" stroke="#1caeee" stroke-width="0.85" />
<line x1="680" y1="82.5" x2="680" y2="113.6" stroke="#1caeee" stroke-width="0.85" />
<line x1="679.1" y1="82.5" x2="680.9" y2="82.5" stroke="#1caeee" stroke-width="0.85" />
<line x1="679.1" y1="113.6" x2="680.9" y2="113.6" stroke="#1caeee" stroke-width="0.85" />
<line x1="668.1" y1="97.9" x2="668.1" y2="99.7" stroke="#1caeee" stroke-width="0.85" />
<line x1="691.6" y1="97.9" x2="691.6" y2="99.7" stroke="#1caeee" stroke-width="0.85" />
<line x1="691.3" y1="89.6" x2="715.3" y2="89.6" stroke="#1caeee" stroke-width="0.85" />
<line x1="703.3" y1="80.4" x2="703.3" y2="98.5" stroke="#1caeee" stroke-width="0.85" />
<line x1="702.4" y1="80.4" x2="704.2" y2="80.4" stroke="#1caeee" stroke-width="0.85" />
<line x1="702.4" y1="98.5" x2="704.2" y2="98.5" stroke="#1caeee" stroke-width="0.85" />
<line x1="691.3" y1="88.7" x2="691.3" y2="90.5" stroke="#1caeee" stroke-width="0.85" />
<line x1="715.3" y1="88.7" x2="715.3" y2="90.5" stroke="#1caeee" stroke-width="0.85" />
<line x1="715.3" y1="89" x2="739" y2="89" stroke="#1caeee" stroke-width="0.85" />
<line x1="726.9" y1="74.7" x2="726.9" y2="102" stroke="#1caeee" stroke-width="0.85" />
<line x1="726" y1="74.7" x2="727.8" y2="74.7" stroke="#1caeee" stroke-width="0.85" />
<line x1="726" y1="102" x2="727.8" y2="102" stroke="#1caeee" stroke-width="0.85" />
<line x1="715.3" y1="88.1" x2="715.3" y2="89.9" stroke="#1caeee" stroke-width="0.85" />
<line x1="739" y1="88.1" x2="739" y2="89.9" stroke="#1caeee" stroke-width="0.85" />
<line x1="738.5" y1="75.9" x2="762.6" y2="75.9" stroke="#1caeee" stroke-width="0.85" />
<line x1="750.5" y1="43.8" x2="750.5" y2="102.2" stroke="#1caeee" stroke-width="0.85" />
<line x1="749.6" y1="43.8" x2="751.4" y2="43.8" stroke="#1caeee" stroke-width="0.85" />
<line x1="749.6" y1="102.2" x2="751.4" y2="102.2" stroke="#1caeee" stroke-width="0.85" />
<line x1="738.5" y1="75" x2="738.5" y2="76.8" stroke="#1caeee" stroke-width="0.85" />
<line x1="762.6" y1="75" x2="762.6" y2="76.8" stroke="#1caeee" stroke-width="0.85" />
<rect x="587.1" y="35.75" width="206.65" height="206.65" fill="none" stroke="#1a1a1a" stroke-width="0.7"/>
<text transform="translate(587 256.5) scale(1 1.05) rotate(0.05)" text-anchor="middle" font-size="13.0" fill="#1c1c1c" >10</text>
<line x1="610.7" y1="242.4" x2="610.7" y2="239.2" stroke="#1a1a1a" stroke-width="0.7" />
<line x1="610.7" y1="35.75" x2="610.7" y2="38.95" stroke="#1a1a1a" stroke-width="0.7" />
<line x1="624.51" y1="242.4" x2="624.51" y2="239.2" stroke="#1a1a1a" stroke-width="0.7" />
<line x1="624.51" y1="35.75" x2="624.51" y2="38.95" stroke="#1a1a1a" stroke-width="0.7" />
<line x1="634.3" y1="242.4" x2="634.3" y2="239.2" stroke="#1a1a1a" stroke-width="0.7" />
<line x1="634.3" y1="35.75" x2="634.3" y2="38.95" stroke="#1a1a1a" stroke-width="0.7" />
<line x1="641.9" y1="242.4" x2="641.9" y2="239.2" stroke="#1a1a1a" stroke-width="0.7" />
<line x1="641.9" y1="35.75" x2="641.9" y2="38.95" stroke="#1a1a1a" stroke-width="0.7" />
<line x1="648.11" y1="242.4" x2="648.11" y2="239.2" stroke="#1a1a1a" stroke-width="0.7" />
<line x1="648.11" y1="35.75" x2="648.11" y2="38.95" stroke="#1a1a1a" stroke-width="0.7" />
<line x1="653.36" y1="242.4" x2="653.36" y2="239.2" stroke="#1a1a1a" stroke-width="0.7" />
<line x1="653.36" y1="35.75" x2="653.36" y2="38.95" stroke="#1a1a1a" stroke-width="0.7" />
<line x1="657.9" y1="242.4" x2="657.9" y2="239.2" stroke="#1a1a1a" stroke-width="0.7" />
<line x1="657.9" y1="35.75" x2="657.9" y2="38.95" stroke="#1a1a1a" stroke-width="0.7" />
<line x1="661.91" y1="242.4" x2="661.91" y2="239.2" stroke="#1a1a1a" stroke-width="0.7" />
<line x1="661.91" y1="35.75" x2="661.91" y2="38.95" stroke="#1a1a1a" stroke-width="0.7" />
<line x1="665.5" y1="242.4" x2="665.5" y2="236.6" stroke="#1a1a1a" stroke-width="0.7" />
<line x1="665.5" y1="35.75" x2="665.5" y2="41.55" stroke="#1a1a1a" stroke-width="0.7" />
<text transform="translate(665.4 256.5) scale(1 1.05) rotate(0.05)" text-anchor="middle" font-size="13.0" fill="#1c1c1c" >100</text>
<line x1="689.1" y1="242.4" x2="689.1" y2="239.2" stroke="#1a1a1a" stroke-width="0.7" />
<line x1="689.1" y1="35.75" x2="689.1" y2="38.95" stroke="#1a1a1a" stroke-width="0.7" />
<line x1="702.91" y1="242.4" x2="702.91" y2="239.2" stroke="#1a1a1a" stroke-width="0.7" />
<line x1="702.91" y1="35.75" x2="702.91" y2="38.95" stroke="#1a1a1a" stroke-width="0.7" />
<line x1="712.7" y1="242.4" x2="712.7" y2="239.2" stroke="#1a1a1a" stroke-width="0.7" />
<line x1="712.7" y1="35.75" x2="712.7" y2="38.95" stroke="#1a1a1a" stroke-width="0.7" />
<line x1="720.3" y1="242.4" x2="720.3" y2="239.2" stroke="#1a1a1a" stroke-width="0.7" />
<line x1="720.3" y1="35.75" x2="720.3" y2="38.95" stroke="#1a1a1a" stroke-width="0.7" />
<line x1="726.51" y1="242.4" x2="726.51" y2="239.2" stroke="#1a1a1a" stroke-width="0.7" />
<line x1="726.51" y1="35.75" x2="726.51" y2="38.95" stroke="#1a1a1a" stroke-width="0.7" />
<line x1="731.76" y1="242.4" x2="731.76" y2="239.2" stroke="#1a1a1a" stroke-width="0.7" />
<line x1="731.76" y1="35.75" x2="731.76" y2="38.95" stroke="#1a1a1a" stroke-width="0.7" />
<line x1="736.3" y1="242.4" x2="736.3" y2="239.2" stroke="#1a1a1a" stroke-width="0.7" />
<line x1="736.3" y1="35.75" x2="736.3" y2="38.95" stroke="#1a1a1a" stroke-width="0.7" />
<line x1="740.31" y1="242.4" x2="740.31" y2="239.2" stroke="#1a1a1a" stroke-width="0.7" />
<line x1="740.31" y1="35.75" x2="740.31" y2="38.95" stroke="#1a1a1a" stroke-width="0.7" />
<line x1="743.9" y1="242.4" x2="743.9" y2="236.6" stroke="#1a1a1a" stroke-width="0.7" />
<line x1="743.9" y1="35.75" x2="743.9" y2="41.55" stroke="#1a1a1a" stroke-width="0.7" />
<text transform="translate(743.8 256.5) scale(1 1.05) rotate(0.05)" text-anchor="middle" font-size="13.0" fill="#1c1c1c" >1000</text>
<line x1="767.5" y1="242.4" x2="767.5" y2="239.2" stroke="#1a1a1a" stroke-width="0.7" />
<line x1="767.5" y1="35.75" x2="767.5" y2="38.95" stroke="#1a1a1a" stroke-width="0.7" />
<line x1="781.31" y1="242.4" x2="781.31" y2="239.2" stroke="#1a1a1a" stroke-width="0.7" />
<line x1="781.31" y1="35.75" x2="781.31" y2="38.95" stroke="#1a1a1a" stroke-width="0.7" />
<line x1="791.1" y1="242.4" x2="791.1" y2="239.2" stroke="#1a1a1a" stroke-width="0.7" />
<line x1="791.1" y1="35.75" x2="791.1" y2="38.95" stroke="#1a1a1a" stroke-width="0.7" />
<text transform="translate(581.6 246.5) scale(1 1.05) rotate(0.05)" text-anchor="end" font-size="12.4" fill="#1c1c1c" letter-spacing="0.4">0.00</text>
<line x1="587.1" y1="230.94" x2="590.6" y2="230.94" stroke="#1a1a1a" stroke-width="0.7" />
<line x1="793.75" y1="230.94" x2="790.25" y2="230.94" stroke="#1a1a1a" stroke-width="0.7" />
<line x1="587.1" y1="219.49" x2="590.6" y2="219.49" stroke="#1a1a1a" stroke-width="0.7" />
<line x1="793.75" y1="219.49" x2="790.25" y2="219.49" stroke="#1a1a1a" stroke-width="0.7" />
<line x1="587.1" y1="208.03" x2="590.6" y2="208.03" stroke="#1a1a1a" stroke-width="0.7" />
<line x1="793.75" y1="208.03" x2="790.25" y2="208.03" stroke="#1a1a1a" stroke-width="0.7" />
<line x1="587.1" y1="196.58" x2="590.6" y2="196.58" stroke="#1a1a1a" stroke-width="0.7" />
<line x1="793.75" y1="196.58" x2="790.25" y2="196.58" stroke="#1a1a1a" stroke-width="0.7" />
<line x1="587.1" y1="185.12" x2="592.9" y2="185.12" stroke="#1a1a1a" stroke-width="0.7" />
<line x1="793.75" y1="185.12" x2="787.95" y2="185.12" stroke="#1a1a1a" stroke-width="0.7" />
<text transform="translate(581.6 189.22) scale(1 1.05) rotate(0.05)" text-anchor="end" font-size="12.4" fill="#1c1c1c" letter-spacing="0.4">0.05</text>
<line x1="587.1" y1="173.66" x2="590.6" y2="173.66" stroke="#1a1a1a" stroke-width="0.7" />
<line x1="793.75" y1="173.66" x2="790.25" y2="173.66" stroke="#1a1a1a" stroke-width="0.7" />
<line x1="587.1" y1="162.21" x2="590.6" y2="162.21" stroke="#1a1a1a" stroke-width="0.7" />
<line x1="793.75" y1="162.21" x2="790.25" y2="162.21" stroke="#1a1a1a" stroke-width="0.7" />
<line x1="587.1" y1="150.75" x2="590.6" y2="150.75" stroke="#1a1a1a" stroke-width="0.7" />
<line x1="793.75" y1="150.75" x2="790.25" y2="150.75" stroke="#1a1a1a" stroke-width="0.7" />
<line x1="587.1" y1="139.3" x2="590.6" y2="139.3" stroke="#1a1a1a" stroke-width="0.7" />
<line x1="793.75" y1="139.3" x2="790.25" y2="139.3" stroke="#1a1a1a" stroke-width="0.7" />
<line x1="587.1" y1="127.84" x2="592.9" y2="127.84" stroke="#1a1a1a" stroke-width="0.7" />
<line x1="793.75" y1="127.84" x2="787.95" y2="127.84" stroke="#1a1a1a" stroke-width="0.7" />
<text transform="translate(581.6 131.94) scale(1 1.05) rotate(0.05)" text-anchor="end" font-size="12.4" fill="#1c1c1c" letter-spacing="0.4">0.10</text>
<line x1="587.1" y1="116.38" x2="590.6" y2="116.38" stroke="#1a1a1a" stroke-width="0.7" />
<line x1="793.75" y1="116.38" x2="790.25" y2="116.38" stroke="#1a1a1a" stroke-width="0.7" />
<line x1="587.1" y1="104.93" x2="590.6" y2="104.93" stroke="#1a1a1a" stroke-width="0.7" />
<line x1="793.75" y1="104.93" x2="790.25" y2="104.93" stroke="#1a1a1a" stroke-width="0.7" />
<line x1="587.1" y1="93.47" x2="590.6" y2="93.47" stroke="#1a1a1a" stroke-width="0.7" />
<line x1="793.75" y1="93.47" x2="790.25" y2="93.47" stroke="#1a1a1a" stroke-width="0.7" />
<line x1="587.1" y1="82.02" x2="590.6" y2="82.02" stroke="#1a1a1a" stroke-width="0.7" />
<line x1="793.75" y1="82.02" x2="790.25" y2="82.02" stroke="#1a1a1a" stroke-width="0.7" />
<line x1="587.1" y1="70.56" x2="592.9" y2="70.56" stroke="#1a1a1a" stroke-width="0.7" />
<line x1="793.75" y1="70.56" x2="787.95" y2="70.56" stroke="#1a1a1a" stroke-width="0.7" />
<text transform="translate(581.6 74.66) scale(1 1.05) rotate(0.05)" text-anchor="end" font-size="12.4" fill="#1c1c1c" letter-spacing="0.4">0.15</text>
<line x1="587.1" y1="59.1" x2="590.6" y2="59.1" stroke="#1a1a1a" stroke-width="0.7" />
<line x1="793.75" y1="59.1" x2="790.25" y2="59.1" stroke="#1a1a1a" stroke-width="0.7" />
<line x1="587.1" y1="47.65" x2="590.6" y2="47.65" stroke="#1a1a1a" stroke-width="0.7" />
<line x1="793.75" y1="47.65" x2="790.25" y2="47.65" stroke="#1a1a1a" stroke-width="0.7" />
<text transform="translate(690.02 270.6) scale(1 0.96) rotate(0.05)" text-anchor="middle" font-size="12.9" fill="#1c1c1c" ><tspan font-style="italic">r</tspan>, kpc</text>
<text transform="translate(551.2 147.6) rotate(-90) scale(1 0.92)" font-size="14" font-style="italic" fill="#1c1c1c">f</text>
<text transform="translate(553.7 142.3) rotate(-90) scale(1 0.92)" font-size="8.6" fill="#1c1c1c">gas</text>
<text transform="translate(776.3 58.6) scale(0.9 1.04) rotate(0.05)" text-anchor="middle" font-size="14.8" fill="#1c1c1c" font-style="italic" font-weight="bold">c</text>
</svg>
</body></html>
